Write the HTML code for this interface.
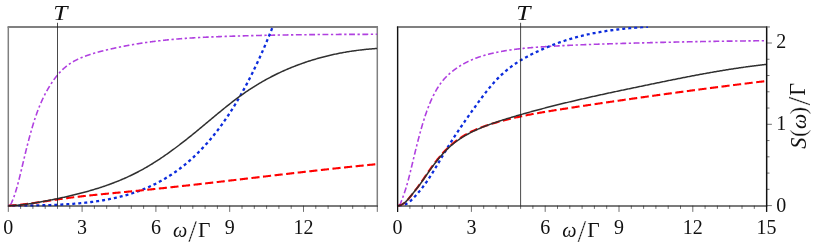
<!DOCTYPE html>
<html><head><meta charset="utf-8"><title>S(ω)/Γ</title>
<style>html,body{margin:0;padding:0;background:#fff}svg{display:block}</style>
</head><body>
<svg width="814" height="244" viewBox="0 0 814 244">
<rect width="814" height="244" fill="#fff"/>
<defs>
<clipPath id="cl"><rect x="8.3" y="26.5" width="369.0" height="180.2"/></clipPath>
<clipPath id="cr"><rect x="397.6" y="26.5" width="369.1" height="180.2"/></clipPath>
</defs>
<path d="M8.3 205.89999999999998 V26.8 M377.3 26.8 V205.89999999999998 M7.6000000000000005 205.95 H378.0" fill="none" stroke="#808080" stroke-width="1.5"/>
<path d="M7.6000000000000005 26.95 H378.0" fill="none" stroke="#808080" stroke-width="1.9"/>
<g clip-path="url(#cl)" fill="none">
<path d="M8.30 205.70 L8.55 205.67 L8.80 205.64 L9.05 205.59 L9.30 205.52 L9.55 205.40 L9.80 205.23 L10.05 205.01 L10.30 204.72 L10.55 204.39 L10.80 204.00 L11.05 203.57 L11.30 203.11 L11.55 202.61 L11.80 202.08 L12.05 201.54 L12.30 200.97 L12.55 200.38 L12.80 199.77 L13.05 199.15 L13.30 198.50 L13.55 197.84 L13.80 197.16 L14.05 196.46 L14.30 195.75 L14.55 195.02 L14.80 194.27 L15.05 193.51 L15.30 192.73 L15.55 191.93 L15.80 191.12 L16.05 190.30 L16.30 189.46 L16.55 188.60 L16.80 187.73 L17.05 186.85 L17.30 185.95 L17.55 185.04 L17.80 184.12 L18.05 183.18 L18.30 182.24 L18.55 181.28 L18.80 180.32 L19.05 179.34 L19.30 178.35 L19.55 177.36 L19.80 176.36 L20.05 175.35 L20.30 174.33 L20.55 173.31 L20.80 172.28 L21.05 171.25 L21.30 170.21 L21.55 169.17 L21.80 168.13 L22.05 167.08 L22.30 166.03 L22.55 164.98 L22.80 163.93 L23.05 162.87 L23.30 161.82 L23.55 160.77 L23.80 159.72 L24.05 158.67 L24.30 157.62 L24.55 156.58 L24.80 155.54 L25.05 154.50 L25.30 153.47 L25.55 152.44 L25.80 151.42 L26.05 150.41 L26.30 149.40 L26.55 148.40 L26.80 147.40 L27.05 146.41 L27.30 145.42 L27.55 144.44 L27.80 143.47 L28.05 142.51 L28.30 141.55 L28.55 140.59 L28.80 139.65 L29.05 138.71 L29.30 137.77 L29.55 136.85 L29.80 135.93 L30.05 135.01 L30.30 134.11 L30.55 133.21 L30.80 132.32 L31.05 131.44 L31.30 130.56 L31.55 129.69 L31.80 128.83 L32.05 127.98 L32.30 127.13 L32.55 126.29 L32.80 125.46 L33.05 124.64 L33.30 123.82 L33.55 123.02 L33.80 122.22 L34.05 121.43 L34.30 120.65 L34.55 119.87 L34.80 119.11 L35.05 118.35 L35.30 117.60 L35.55 116.86 L35.80 116.13 L36.05 115.41 L36.30 114.69 L36.55 113.99 L36.80 113.29 L37.05 112.60 L37.30 111.92 L37.55 111.24 L37.80 110.58 L38.05 109.92 L38.30 109.27 L38.55 108.63 L38.80 107.99 L39.05 107.36 L39.30 106.74 L39.55 106.13 L39.80 105.52 L40.05 104.92 L40.30 104.33 L40.55 103.74 L40.80 103.16 L41.05 102.58 L41.30 102.02 L41.55 101.46 L41.80 100.90 L42.05 100.35 L42.30 99.81 L42.55 99.27 L42.80 98.74 L43.05 98.22 L43.30 97.70 L43.55 97.18 L43.80 96.67 L44.05 96.17 L44.30 95.67 L44.55 95.18 L44.80 94.69 L45.05 94.21 L45.30 93.73 L45.55 93.26 L45.80 92.79 L46.05 92.32 L46.30 91.86 L46.55 91.41 L46.80 90.96 L47.05 90.51 L47.30 90.07 L47.55 89.63 L47.80 89.19 L48.05 88.76 L48.30 88.33 L48.55 87.91 L48.80 87.49 L49.05 87.07 L49.30 86.66 L49.55 86.25 L49.80 85.84 L50.05 85.44 L50.30 85.04 L50.55 84.64 L50.80 84.25 L51.05 83.87 L51.30 83.48 L51.55 83.10 L51.80 82.72 L52.05 82.35 L52.30 81.98 L52.55 81.61 L52.80 81.25 L53.05 80.89 L53.30 80.53 L53.55 80.18 L53.80 79.83 L54.05 79.49 L54.30 79.14 L54.55 78.80 L54.80 78.47 L55.05 78.13 L55.30 77.80 L55.55 77.48 L55.80 77.16 L56.05 76.84 L56.30 76.52 L56.55 76.21 L56.80 75.90 L57.05 75.59 L57.30 75.29 L57.55 74.99 L57.80 74.69 L58.05 74.40 L58.30 74.10 L58.55 73.82 L58.80 73.53 L59.05 73.25 L59.30 72.97 L59.55 72.70 L59.80 72.42 L60.05 72.15 L60.30 71.89 L60.55 71.62 L60.80 71.36 L61.05 71.10 L61.30 70.85 L61.55 70.60 L61.80 70.35 L62.05 70.10 L62.30 69.86 L62.55 69.62 L62.80 69.38 L63.05 69.15 L63.30 68.91 L63.55 68.69 L63.80 68.46 L64.05 68.23 L64.30 68.01 L64.55 67.79 L64.80 67.58 L65.05 67.37 L65.30 67.15 L65.55 66.95 L65.80 66.74 L66.05 66.54 L66.30 66.34 L66.55 66.14 L66.80 65.94 L67.05 65.75 L67.30 65.56 L67.55 65.37 L67.80 65.18 L68.05 64.99 L68.30 64.81 L68.55 64.63 L68.80 64.45 L69.05 64.28 L69.30 64.10 L69.55 63.93 L69.80 63.76 L70.05 63.59 L70.30 63.43 L70.55 63.27 L70.80 63.10 L71.05 62.94 L71.30 62.79 L71.55 62.63 L71.80 62.48 L72.05 62.32 L72.30 62.17 L72.55 62.02 L72.80 61.88 L73.05 61.73 L73.30 61.59 L73.55 61.45 L73.80 61.31 L74.05 61.17 L74.30 61.03 L74.55 60.89 L74.80 60.76 L75.05 60.63 L75.30 60.50 L75.55 60.37 L75.80 60.24 L76.05 60.11 L76.30 59.99 L76.55 59.86 L76.80 59.74 L77.05 59.62 L77.30 59.50 L77.55 59.38 L77.80 59.26 L78.05 59.14 L78.30 59.03 L78.55 58.91 L78.80 58.80 L79.05 58.69 L79.30 58.57 L79.55 58.46 L79.80 58.35 L80.05 58.25 L80.30 58.14 L80.55 58.03 L80.80 57.93 L81.05 57.82 L81.30 57.72 L81.55 57.61 L81.80 57.51 L82.05 57.41 L82.30 57.31 L82.55 57.21 L82.80 57.11 L83.05 57.01 L83.30 56.91 L83.55 56.81 L83.80 56.71 L84.05 56.62 L84.30 56.52 L84.55 56.43 L84.80 56.33 L85.05 56.24 L85.30 56.14 L85.55 56.05 L85.80 55.96 L86.05 55.87 L86.30 55.78 L86.55 55.69 L86.80 55.60 L87.05 55.51 L87.30 55.42 L87.55 55.33 L87.80 55.25 L88.05 55.16 L88.30 55.07 L88.55 54.99 L88.80 54.90 L89.05 54.82 L89.30 54.73 L89.55 54.65 L89.80 54.57 L90.05 54.49 L90.30 54.40 L90.55 54.32 L90.80 54.24 L91.05 54.16 L91.30 54.08 L91.55 54.00 L91.80 53.92 L92.05 53.85 L92.30 53.77 L92.55 53.69 L92.80 53.61 L93.05 53.54 L93.30 53.46 L93.55 53.39 L93.80 53.31 L94.05 53.24 L94.30 53.16 L94.55 53.09 L94.80 53.02 L95.05 52.94 L95.30 52.87 L95.55 52.80 L95.80 52.73 L96.05 52.66 L96.30 52.59 L96.55 52.52 L96.80 52.45 L97.05 52.38 L97.30 52.31 L97.55 52.24 L97.80 52.17 L98.05 52.10 L98.30 52.03 L98.55 51.97 L98.80 51.90 L99.05 51.83 L99.30 51.77 L99.55 51.70 L99.80 51.63 L100.05 51.57 L100.30 51.50 L100.55 51.44 L100.80 51.37 L101.05 51.31 L101.30 51.25 L101.55 51.18 L101.80 51.12 L102.05 51.06 L102.30 50.99 L102.55 50.93 L102.80 50.87 L103.05 50.80 L103.30 50.74 L103.55 50.68 L103.80 50.62 L104.05 50.56 L104.30 50.50 L104.55 50.44 L104.80 50.38 L105.05 50.32 L105.30 50.26 L105.55 50.20 L105.80 50.14 L106.05 50.08 L106.30 50.02 L106.55 49.96 L106.80 49.90 L107.05 49.84 L107.30 49.78 L107.55 49.72 L107.80 49.66 L108.05 49.60 L108.30 49.55 L108.55 49.49 L108.80 49.43 L109.05 49.37 L109.30 49.31 L109.55 49.26 L109.80 49.20 L110.05 49.14 L110.30 49.09 L110.55 49.03 L110.80 48.97 L111.05 48.92 L111.30 48.86 L111.55 48.80 L111.80 48.75 L112.05 48.69 L112.30 48.64 L112.55 48.58 L112.80 48.52 L113.05 48.47 L113.30 48.41 L113.55 48.36 L113.80 48.30 L114.05 48.25 L114.30 48.20 L114.55 48.14 L114.80 48.09 L115.05 48.03 L115.30 47.98 L115.55 47.93 L115.80 47.87 L116.05 47.82 L116.30 47.77 L116.55 47.71 L116.80 47.66 L117.05 47.61 L117.30 47.55 L117.55 47.50 L117.80 47.45 L118.05 47.40 L118.30 47.35 L118.55 47.29 L118.80 47.24 L119.05 47.19 L119.30 47.14 L119.55 47.09 L119.80 47.04 L120.05 46.99 L120.30 46.94 L120.55 46.89 L120.80 46.83 L121.05 46.78 L121.30 46.73 L121.55 46.68 L121.80 46.63 L122.05 46.58 L122.30 46.54 L122.55 46.49 L122.80 46.44 L123.05 46.39 L123.30 46.34 L123.55 46.29 L123.80 46.24 L124.05 46.19 L124.30 46.14 L124.55 46.10 L124.80 46.05 L125.05 46.00 L125.30 45.95 L125.55 45.90 L125.80 45.86 L126.05 45.81 L126.30 45.76 L126.55 45.72 L126.80 45.67 L127.05 45.62 L127.30 45.58 L127.55 45.53 L127.80 45.48 L128.05 45.44 L128.30 45.39 L128.55 45.35 L128.80 45.30 L129.05 45.25 L129.30 45.21 L129.55 45.16 L129.80 45.12 L130.05 45.07 L130.30 45.03 L130.55 44.98 L130.80 44.94 L131.05 44.90 L131.30 44.85 L131.55 44.81 L131.80 44.76 L132.05 44.72 L132.30 44.68 L132.55 44.63 L132.80 44.59 L133.05 44.55 L133.30 44.50 L133.55 44.46 L133.80 44.42 L134.05 44.37 L134.30 44.33 L134.55 44.29 L134.80 44.25 L135.05 44.21 L135.30 44.16 L135.55 44.12 L135.80 44.08 L136.05 44.04 L136.30 44.00 L136.55 43.96 L136.80 43.91 L137.05 43.87 L137.30 43.83 L137.55 43.79 L137.80 43.75 L138.05 43.71 L138.30 43.67 L138.55 43.63 L138.80 43.59 L139.05 43.55 L139.30 43.51 L139.55 43.47 L139.80 43.43 L140.05 43.39 L140.30 43.35 L140.55 43.32 L140.80 43.28 L141.05 43.24 L141.30 43.20 L141.55 43.16 L141.80 43.12 L142.05 43.09 L142.30 43.05 L142.55 43.01 L142.80 42.97 L143.05 42.93 L143.30 42.90 L143.55 42.86 L143.80 42.82 L144.05 42.79 L144.30 42.75 L144.55 42.71 L144.80 42.68 L145.05 42.64 L145.30 42.60 L145.55 42.57 L145.80 42.53 L146.05 42.49 L146.30 42.46 L146.55 42.42 L146.80 42.39 L147.05 42.35 L147.30 42.32 L147.55 42.28 L147.80 42.25 L148.05 42.21 L148.30 42.18 L148.55 42.14 L148.80 42.11 L149.05 42.07 L149.30 42.04 L149.55 42.01 L149.80 41.97 L150.05 41.94 L150.30 41.90 L150.55 41.87 L150.80 41.84 L151.05 41.80 L151.30 41.77 L151.55 41.74 L151.80 41.71 L152.05 41.67 L152.30 41.64 L152.55 41.61 L152.80 41.58 L153.05 41.54 L153.30 41.51 L153.55 41.48 L153.80 41.45 L154.05 41.42 L154.30 41.39 L154.55 41.35 L154.80 41.32 L155.05 41.29 L155.30 41.26 L155.55 41.23 L155.80 41.20 L156.05 41.17 L156.30 41.14 L156.55 41.11 L156.80 41.08 L157.05 41.05 L157.30 41.02 L157.55 40.99 L157.80 40.96 L158.05 40.93 L158.30 40.90 L158.55 40.87 L158.80 40.84 L159.05 40.81 L159.30 40.78 L159.55 40.75 L159.80 40.73 L160.05 40.70 L160.30 40.67 L160.55 40.64 L160.80 40.61 L161.05 40.58 L161.30 40.56 L161.55 40.53 L161.80 40.50 L162.05 40.47 L162.30 40.45 L162.55 40.42 L162.80 40.39 L163.05 40.36 L163.30 40.34 L163.55 40.31 L163.80 40.28 L164.05 40.26 L164.30 40.23 L164.55 40.20 L164.80 40.18 L165.05 40.15 L165.30 40.13 L165.55 40.10 L165.80 40.07 L166.05 40.05 L166.30 40.02 L166.55 40.00 L166.80 39.97 L167.05 39.95 L167.30 39.92 L167.55 39.90 L167.80 39.87 L168.05 39.85 L168.30 39.82 L168.55 39.80 L168.80 39.77 L169.05 39.75 L169.30 39.73 L169.55 39.70 L169.80 39.68 L170.05 39.65 L170.30 39.63 L170.55 39.61 L170.80 39.58 L171.05 39.56 L171.30 39.54 L171.55 39.51 L171.80 39.49 L172.05 39.47 L172.30 39.44 L172.55 39.42 L172.80 39.40 L173.05 39.38 L173.30 39.35 L173.55 39.33 L173.80 39.31 L174.05 39.29 L174.30 39.26 L174.55 39.24 L174.80 39.22 L175.05 39.20 L175.30 39.18 L175.55 39.16 L175.80 39.13 L176.05 39.11 L176.30 39.09 L176.55 39.07 L176.80 39.05 L177.05 39.03 L177.30 39.01 L177.55 38.99 L177.80 38.97 L178.05 38.95 L178.30 38.93 L178.55 38.91 L178.80 38.89 L179.05 38.86 L179.30 38.84 L179.55 38.82 L179.80 38.81 L180.05 38.79 L180.30 38.77 L180.55 38.75 L180.80 38.73 L181.05 38.71 L181.30 38.69 L181.55 38.67 L181.80 38.65 L182.05 38.63 L182.30 38.61 L182.55 38.59 L182.80 38.57 L183.05 38.56 L183.30 38.54 L183.55 38.52 L183.80 38.50 L184.05 38.48 L184.30 38.46 L184.55 38.45 L184.80 38.43 L185.05 38.41 L185.30 38.39 L185.55 38.37 L185.80 38.36 L186.05 38.34 L186.30 38.32 L186.55 38.30 L186.80 38.29 L187.05 38.27 L187.30 38.25 L187.55 38.24 L187.80 38.22 L188.05 38.20 L188.30 38.18 L188.55 38.17 L188.80 38.15 L189.05 38.13 L189.30 38.12 L189.55 38.10 L189.80 38.09 L190.05 38.07 L190.30 38.05 L190.55 38.04 L190.80 38.02 L191.05 38.00 L191.30 37.99 L191.55 37.97 L191.80 37.96 L192.05 37.94 L192.30 37.93 L192.55 37.91 L192.80 37.90 L193.05 37.88 L193.30 37.87 L193.55 37.85 L193.80 37.83 L194.05 37.82 L194.30 37.80 L194.55 37.79 L194.80 37.78 L195.05 37.76 L195.30 37.75 L195.55 37.73 L195.80 37.72 L196.05 37.70 L196.30 37.69 L196.55 37.67 L196.80 37.66 L197.05 37.65 L197.30 37.63 L197.55 37.62 L197.80 37.60 L198.05 37.59 L198.30 37.58 L198.55 37.56 L198.80 37.55 L199.05 37.53 L199.30 37.52 L199.55 37.51 L199.80 37.49 L200.05 37.48 L200.30 37.47 L200.55 37.45 L200.80 37.44 L201.05 37.43 L201.30 37.42 L201.55 37.40 L201.80 37.39 L202.05 37.38 L202.30 37.36 L202.55 37.35 L202.80 37.34 L203.05 37.33 L203.30 37.31 L203.55 37.30 L203.80 37.29 L204.05 37.28 L204.30 37.26 L204.55 37.25 L204.80 37.24 L205.05 37.23 L205.30 37.22 L205.55 37.20 L205.80 37.19 L206.05 37.18 L206.30 37.17 L206.55 37.16 L206.80 37.15 L207.05 37.13 L207.30 37.12 L207.55 37.11 L207.80 37.10 L208.05 37.09 L208.30 37.08 L208.55 37.07 L208.80 37.05 L209.05 37.04 L209.30 37.03 L209.55 37.02 L209.80 37.01 L210.05 37.00 L210.30 36.99 L210.55 36.98 L210.80 36.97 L211.05 36.95 L211.30 36.94 L211.55 36.93 L211.80 36.92 L212.05 36.91 L212.30 36.90 L212.55 36.89 L212.80 36.88 L213.05 36.87 L213.30 36.86 L213.55 36.85 L213.80 36.84 L214.05 36.83 L214.30 36.82 L214.55 36.81 L214.80 36.80 L215.05 36.79 L215.30 36.78 L215.55 36.77 L215.80 36.76 L216.05 36.75 L216.30 36.74 L216.55 36.73 L216.80 36.72 L217.05 36.71 L217.30 36.70 L217.55 36.69 L217.80 36.68 L218.05 36.67 L218.30 36.66 L218.55 36.65 L218.80 36.64 L219.05 36.63 L219.30 36.62 L219.55 36.62 L219.80 36.61 L220.05 36.60 L220.30 36.59 L220.55 36.58 L220.80 36.57 L221.05 36.56 L221.30 36.55 L221.55 36.54 L221.80 36.53 L222.05 36.52 L222.30 36.52 L222.55 36.51 L222.80 36.50 L223.05 36.49 L223.30 36.48 L223.55 36.47 L223.80 36.46 L224.05 36.45 L224.30 36.45 L224.55 36.44 L224.80 36.43 L225.05 36.42 L225.30 36.41 L225.55 36.40 L225.80 36.39 L226.05 36.39 L226.30 36.38 L226.55 36.37 L226.80 36.36 L227.05 36.35 L227.30 36.34 L227.55 36.34 L227.80 36.33 L228.05 36.32 L228.30 36.31 L228.55 36.30 L228.80 36.29 L229.05 36.29 L229.30 36.28 L229.55 36.27 L229.80 36.26 L230.05 36.25 L230.30 36.25 L230.55 36.24 L230.80 36.23 L231.05 36.22 L231.30 36.21 L231.55 36.21 L231.80 36.20 L232.05 36.19 L232.30 36.18 L232.55 36.17 L232.80 36.17 L233.05 36.16 L233.30 36.15 L233.55 36.14 L233.80 36.14 L234.05 36.13 L234.30 36.12 L234.55 36.11 L234.80 36.10 L235.05 36.10 L235.30 36.09 L235.55 36.08 L235.80 36.07 L236.05 36.07 L236.30 36.06 L236.55 36.05 L236.80 36.04 L237.05 36.04 L237.30 36.03 L237.55 36.02 L237.80 36.01 L238.05 36.01 L238.30 36.00 L238.55 35.99 L238.80 35.99 L239.05 35.98 L239.30 35.97 L239.55 35.96 L239.80 35.96 L240.05 35.95 L240.30 35.94 L240.55 35.93 L240.80 35.93 L241.05 35.92 L241.30 35.91 L241.55 35.91 L241.80 35.90 L242.05 35.89 L242.30 35.88 L242.55 35.88 L242.80 35.87 L243.05 35.86 L243.30 35.86 L243.55 35.85 L243.80 35.84 L244.05 35.84 L244.30 35.83 L244.55 35.82 L244.80 35.82 L245.05 35.81 L245.30 35.80 L245.55 35.80 L245.80 35.79 L246.05 35.78 L246.30 35.78 L246.55 35.77 L246.80 35.76 L247.05 35.76 L247.30 35.75 L247.55 35.74 L247.80 35.74 L248.05 35.73 L248.30 35.72 L248.55 35.72 L248.80 35.71 L249.05 35.70 L249.30 35.70 L249.55 35.69 L249.80 35.68 L250.05 35.68 L250.30 35.67 L250.55 35.66 L250.80 35.66 L251.05 35.65 L251.30 35.65 L251.55 35.64 L251.80 35.63 L252.05 35.63 L252.30 35.62 L252.55 35.61 L252.80 35.61 L253.05 35.60 L253.30 35.60 L253.55 35.59 L253.80 35.58 L254.05 35.58 L254.30 35.57 L254.55 35.57 L254.80 35.56 L255.05 35.55 L255.30 35.55 L255.55 35.54 L255.80 35.54 L256.05 35.53 L256.30 35.52 L256.55 35.52 L256.80 35.51 L257.05 35.51 L257.30 35.50 L257.55 35.49 L257.80 35.49 L258.05 35.48 L258.30 35.48 L258.55 35.47 L258.80 35.47 L259.05 35.46 L259.30 35.45 L259.55 35.45 L259.80 35.44 L260.05 35.44 L260.30 35.43 L260.55 35.43 L260.80 35.42 L261.05 35.42 L261.30 35.41 L261.55 35.40 L261.80 35.40 L262.05 35.39 L262.30 35.39 L262.55 35.38 L262.80 35.38 L263.05 35.37 L263.30 35.37 L263.55 35.36 L263.80 35.36 L264.05 35.35 L264.30 35.34 L264.55 35.34 L264.80 35.33 L265.05 35.33 L265.30 35.32 L265.55 35.32 L265.80 35.31 L266.05 35.31 L266.30 35.30 L266.55 35.30 L266.80 35.29 L267.05 35.29 L267.30 35.28 L267.55 35.28 L267.80 35.27 L268.05 35.27 L268.30 35.26 L268.55 35.26 L268.80 35.25 L269.05 35.25 L269.30 35.24 L269.55 35.24 L269.80 35.23 L270.05 35.23 L270.30 35.22 L270.55 35.22 L270.80 35.21 L271.05 35.21 L271.30 35.20 L271.55 35.20 L271.80 35.19 L272.05 35.19 L272.30 35.18 L272.55 35.18 L272.80 35.17 L273.05 35.17 L273.30 35.16 L273.55 35.16 L273.80 35.16 L274.05 35.15 L274.30 35.15 L274.55 35.14 L274.80 35.14 L275.05 35.13 L275.30 35.13 L275.55 35.12 L275.80 35.12 L276.05 35.11 L276.30 35.11 L276.55 35.11 L276.80 35.10 L277.05 35.10 L277.30 35.09 L277.55 35.09 L277.80 35.08 L278.05 35.08 L278.30 35.07 L278.55 35.07 L278.80 35.07 L279.05 35.06 L279.30 35.06 L279.55 35.05 L279.80 35.05 L280.05 35.04 L280.30 35.04 L280.55 35.04 L280.80 35.03 L281.05 35.03 L281.30 35.02 L281.55 35.02 L281.80 35.02 L282.05 35.01 L282.30 35.01 L282.55 35.00 L282.80 35.00 L283.05 34.99 L283.30 34.99 L283.55 34.99 L283.80 34.98 L284.05 34.98 L284.30 34.97 L284.55 34.97 L284.80 34.97 L285.05 34.96 L285.30 34.96 L285.55 34.95 L285.80 34.95 L286.05 34.95 L286.30 34.94 L286.55 34.94 L286.80 34.94 L287.05 34.93 L287.30 34.93 L287.55 34.92 L287.80 34.92 L288.05 34.92 L288.30 34.91 L288.55 34.91 L288.80 34.91 L289.05 34.90 L289.30 34.90 L289.55 34.89 L289.80 34.89 L290.05 34.89 L290.30 34.88 L290.55 34.88 L290.80 34.88 L291.05 34.87 L291.30 34.87 L291.55 34.87 L291.80 34.86 L292.05 34.86 L292.30 34.86 L292.55 34.85 L292.80 34.85 L293.05 34.84 L293.30 34.84 L293.55 34.84 L293.80 34.83 L294.05 34.83 L294.30 34.83 L294.55 34.82 L294.80 34.82 L295.05 34.82 L295.30 34.81 L295.55 34.81 L295.80 34.81 L296.05 34.80 L296.30 34.80 L296.55 34.80 L296.80 34.79 L297.05 34.79 L297.30 34.79 L297.55 34.79 L297.80 34.78 L298.05 34.78 L298.30 34.78 L298.55 34.77 L298.80 34.77 L299.05 34.77 L299.30 34.76 L299.55 34.76 L299.80 34.76 L300.05 34.75 L300.30 34.75 L300.55 34.75 L300.80 34.74 L301.05 34.74 L301.30 34.74 L301.55 34.74 L301.80 34.73 L302.05 34.73 L302.30 34.73 L302.55 34.72 L302.80 34.72 L303.05 34.72 L303.30 34.72 L303.55 34.71 L303.80 34.71 L304.05 34.71 L304.30 34.70 L304.55 34.70 L304.80 34.70 L305.05 34.70 L305.30 34.69 L305.55 34.69 L305.80 34.69 L306.05 34.68 L306.30 34.68 L306.55 34.68 L306.80 34.68 L307.05 34.67 L307.30 34.67 L307.55 34.67 L307.80 34.67 L308.05 34.66 L308.30 34.66 L308.55 34.66 L308.80 34.66 L309.05 34.65 L309.30 34.65 L309.55 34.65 L309.80 34.64 L310.05 34.64 L310.30 34.64 L310.55 34.64 L310.80 34.63 L311.05 34.63 L311.30 34.63 L311.55 34.63 L311.80 34.62 L312.05 34.62 L312.30 34.62 L312.55 34.62 L312.80 34.62 L313.05 34.61 L313.30 34.61 L313.55 34.61 L313.80 34.61 L314.05 34.60 L314.30 34.60 L314.55 34.60 L314.80 34.60 L315.05 34.59 L315.30 34.59 L315.55 34.59 L315.80 34.59 L316.05 34.58 L316.30 34.58 L316.55 34.58 L316.80 34.58 L317.05 34.58 L317.30 34.57 L317.55 34.57 L317.80 34.57 L318.05 34.57 L318.30 34.57 L318.55 34.56 L318.80 34.56 L319.05 34.56 L319.30 34.56 L319.55 34.55 L319.80 34.55 L320.05 34.55 L320.30 34.55 L320.55 34.55 L320.80 34.54 L321.05 34.54 L321.30 34.54 L321.55 34.54 L321.80 34.54 L322.05 34.53 L322.30 34.53 L322.55 34.53 L322.80 34.53 L323.05 34.53 L323.30 34.52 L323.55 34.52 L323.80 34.52 L324.05 34.52 L324.30 34.52 L324.55 34.52 L324.80 34.51 L325.05 34.51 L325.30 34.51 L325.55 34.51 L325.80 34.51 L326.05 34.50 L326.30 34.50 L326.55 34.50 L326.80 34.50 L327.05 34.50 L327.30 34.50 L327.55 34.49 L327.80 34.49 L328.05 34.49 L328.30 34.49 L328.55 34.49 L328.80 34.48 L329.05 34.48 L329.30 34.48 L329.55 34.48 L329.80 34.48 L330.05 34.48 L330.30 34.47 L330.55 34.47 L330.80 34.47 L331.05 34.47 L331.30 34.47 L331.55 34.47 L331.80 34.47 L332.05 34.46 L332.30 34.46 L332.55 34.46 L332.80 34.46 L333.05 34.46 L333.30 34.46 L333.55 34.45 L333.80 34.45 L334.05 34.45 L334.30 34.45 L334.55 34.45 L334.80 34.45 L335.05 34.45 L335.30 34.44 L335.55 34.44 L335.80 34.44 L336.05 34.44 L336.30 34.44 L336.55 34.44 L336.80 34.44 L337.05 34.43 L337.30 34.43 L337.55 34.43 L337.80 34.43 L338.05 34.43 L338.30 34.43 L338.55 34.43 L338.80 34.42 L339.05 34.42 L339.30 34.42 L339.55 34.42 L339.80 34.42 L340.05 34.42 L340.30 34.42 L340.55 34.42 L340.80 34.41 L341.05 34.41 L341.30 34.41 L341.55 34.41 L341.80 34.41 L342.05 34.41 L342.30 34.41 L342.55 34.41 L342.80 34.41 L343.05 34.40 L343.30 34.40 L343.55 34.40 L343.80 34.40 L344.05 34.40 L344.30 34.40 L344.55 34.40 L344.80 34.40 L345.05 34.39 L345.30 34.39 L345.55 34.39 L345.80 34.39 L346.05 34.39 L346.30 34.39 L346.55 34.39 L346.80 34.39 L347.05 34.39 L347.30 34.39 L347.55 34.38 L347.80 34.38 L348.05 34.38 L348.30 34.38 L348.55 34.38 L348.80 34.38 L349.05 34.38 L349.30 34.38 L349.55 34.38 L349.80 34.38 L350.05 34.37 L350.30 34.37 L350.55 34.37 L350.80 34.37 L351.05 34.37 L351.30 34.37 L351.55 34.37 L351.80 34.37 L352.05 34.37 L352.30 34.37 L352.55 34.37 L352.80 34.36 L353.05 34.36 L353.30 34.36 L353.55 34.36 L353.80 34.36 L354.05 34.36 L354.30 34.36 L354.55 34.36 L354.80 34.36 L355.05 34.36 L355.30 34.36 L355.55 34.36 L355.80 34.35 L356.05 34.35 L356.30 34.35 L356.55 34.35 L356.80 34.35 L357.05 34.35 L357.30 34.35 L357.55 34.35 L357.80 34.35 L358.05 34.35 L358.30 34.35 L358.55 34.35 L358.80 34.35 L359.05 34.35 L359.30 34.34 L359.55 34.34 L359.80 34.34 L360.05 34.34 L360.30 34.34 L360.55 34.34 L360.80 34.34 L361.05 34.34 L361.30 34.34 L361.55 34.34 L361.80 34.34 L362.05 34.34 L362.30 34.34 L362.55 34.34 L362.80 34.34 L363.05 34.34 L363.30 34.33 L363.55 34.33 L363.80 34.33 L364.05 34.33 L364.30 34.33 L364.55 34.33 L364.80 34.33 L365.05 34.33 L365.30 34.33 L365.55 34.33 L365.80 34.33 L366.05 34.33 L366.30 34.33 L366.55 34.33 L366.80 34.33 L367.05 34.33 L367.30 34.33 L367.55 34.33 L367.80 34.32 L368.05 34.32 L368.30 34.32 L368.55 34.32 L368.80 34.32 L369.05 34.32 L369.30 34.32 L369.55 34.32 L369.80 34.32 L370.05 34.32 L370.30 34.32 L370.55 34.32 L370.80 34.32 L371.05 34.32 L371.30 34.32 L371.55 34.32 L371.80 34.32 L372.05 34.32 L372.30 34.32 L372.55 34.32 L372.80 34.32 L373.05 34.32 L373.30 34.32 L373.55 34.32 L373.80 34.31 L374.05 34.31 L374.30 34.31 L374.55 34.31 L374.80 34.31 L375.05 34.31 L375.30 34.31 L375.55 34.31 L375.80 34.31 L376.05 34.31 L376.30 34.31 L376.55 34.31 L376.80 34.31 L377.05 34.31 L377.30 34.31" stroke="#b040e0" stroke-width="1.6" stroke-dasharray="5.9 2.55 2.3 2.55" stroke-dashoffset="11.06"/>
<path d="M8.30 205.70 L9.30 205.70 L10.30 205.70 L11.30 205.70 L12.30 205.69 L13.30 205.69 L14.30 205.69 L15.30 205.68 L16.30 205.68 L17.30 205.67 L18.30 205.67 L19.30 205.66 L20.30 205.65 L21.30 205.65 L22.30 205.64 L23.30 205.63 L24.30 205.62 L25.30 205.61 L26.30 205.59 L27.30 205.58 L28.30 205.57 L29.30 205.56 L30.30 205.54 L31.30 205.52 L32.30 205.51 L33.30 205.49 L34.30 205.47 L35.30 205.45 L36.30 205.43 L37.30 205.41 L38.30 205.39 L39.30 205.37 L40.30 205.34 L41.30 205.32 L42.30 205.29 L43.30 205.27 L44.30 205.24 L45.30 205.21 L46.30 205.18 L47.30 205.15 L48.30 205.11 L49.30 205.08 L50.30 205.05 L51.30 205.01 L52.30 204.97 L53.30 204.93 L54.30 204.89 L55.30 204.85 L56.30 204.80 L57.30 204.76 L58.30 204.71 L59.30 204.66 L60.30 204.61 L61.30 204.56 L62.30 204.51 L63.30 204.45 L64.30 204.40 L65.30 204.34 L66.30 204.28 L67.30 204.22 L68.30 204.15 L69.30 204.09 L70.30 204.02 L71.30 203.95 L72.30 203.87 L73.30 203.80 L74.30 203.72 L75.30 203.64 L76.30 203.56 L77.30 203.47 L78.30 203.39 L79.30 203.30 L80.30 203.21 L81.30 203.11 L82.30 203.01 L83.30 202.91 L84.30 202.81 L85.30 202.71 L86.30 202.60 L87.30 202.49 L88.30 202.37 L89.30 202.25 L90.30 202.13 L91.30 202.01 L92.30 201.88 L93.30 201.75 L94.30 201.62 L95.30 201.48 L96.30 201.34 L97.30 201.19 L98.30 201.05 L99.30 200.89 L100.30 200.74 L101.30 200.58 L102.30 200.41 L103.30 200.25 L104.30 200.07 L105.30 199.90 L106.30 199.72 L107.30 199.53 L108.30 199.34 L109.30 199.15 L110.30 198.95 L111.30 198.75 L112.30 198.54 L113.30 198.33 L114.30 198.11 L115.30 197.89 L116.30 197.66 L117.30 197.43 L118.30 197.19 L119.30 196.95 L120.30 196.70 L121.30 196.45 L122.30 196.19 L123.30 195.92 L124.30 195.65 L125.30 195.38 L126.30 195.10 L127.30 194.81 L128.30 194.51 L129.30 194.21 L130.30 193.91 L131.30 193.59 L132.30 193.27 L133.30 192.95 L134.30 192.61 L135.30 192.27 L136.30 191.93 L137.30 191.57 L138.30 191.21 L139.30 190.85 L140.30 190.47 L141.30 190.09 L142.30 189.70 L143.30 189.30 L144.30 188.90 L145.30 188.49 L146.30 188.07 L147.30 187.64 L148.30 187.20 L149.30 186.76 L150.30 186.30 L151.30 185.84 L152.30 185.37 L153.30 184.89 L154.30 184.41 L155.30 183.91 L156.30 183.41 L157.30 182.89 L158.30 182.37 L159.30 181.84 L160.30 181.29 L161.30 180.74 L162.30 180.18 L163.30 179.61 L164.30 179.03 L165.30 178.44 L166.30 177.84 L167.30 177.23 L168.30 176.61 L169.30 175.97 L170.30 175.33 L171.30 174.68 L172.30 174.01 L173.30 173.34 L174.30 172.65 L175.30 171.96 L176.30 171.25 L177.30 170.53 L178.30 169.79 L179.30 169.05 L180.30 168.29 L181.30 167.53 L182.30 166.75 L183.30 165.95 L184.30 165.15 L185.30 164.33 L186.30 163.50 L187.30 162.66 L188.30 161.80 L189.30 160.94 L190.30 160.05 L191.30 159.16 L192.30 158.25 L193.30 157.33 L194.30 156.39 L195.30 155.44 L196.30 154.48 L197.30 153.50 L198.30 152.50 L199.30 151.50 L200.30 150.47 L201.30 149.44 L202.30 148.38 L203.30 147.32 L204.30 146.23 L205.30 145.14 L206.30 144.02 L207.30 142.89 L208.30 141.75 L209.30 140.59 L210.30 139.41 L211.30 138.22 L212.30 137.01 L213.30 135.78 L214.30 134.53 L215.30 133.27 L216.30 132.00 L217.30 130.70 L218.30 129.39 L219.30 128.06 L220.30 126.71 L221.30 125.34 L222.30 123.96 L223.30 122.56 L224.30 121.14 L225.30 119.70 L226.30 118.24 L227.30 116.76 L228.30 115.26 L229.30 113.75 L230.30 112.21 L231.30 110.66 L232.30 109.09 L233.30 107.49 L234.30 105.88 L235.30 104.24 L236.30 102.59 L237.30 100.91 L238.30 99.21 L239.30 97.50 L240.30 95.76 L241.30 94.00 L242.30 92.21 L243.30 90.41 L244.30 88.59 L245.30 86.74 L246.30 84.87 L247.30 82.98 L248.30 81.06 L249.30 79.12 L250.30 77.16 L251.30 75.18 L252.30 73.17 L253.30 71.14 L254.30 69.09 L255.30 67.01 L256.30 64.90 L257.30 62.78 L258.30 60.63 L259.30 58.45 L260.30 56.25 L261.30 54.02 L262.30 51.77 L263.30 49.49 L264.30 47.19 L265.30 44.86 L266.30 42.51 L267.30 40.13 L268.30 37.72 L269.30 35.28 L270.30 32.82 L271.30 30.33 L272.30 27.82 L273.30 25.28 L274.30 22.71" stroke="#0c2cdc" stroke-width="2.3" stroke-dasharray="3 3" stroke-dashoffset="1.97"/>
<path d="M8.30 205.71 L9.30 205.65 L10.30 205.59 L11.30 205.53 L12.30 205.46 L13.30 205.38 L14.30 205.30 L15.30 205.22 L16.30 205.13 L17.30 205.04 L18.30 204.94 L19.30 204.84 L20.30 204.73 L21.30 204.63 L22.30 204.51 L23.30 204.40 L24.30 204.28 L25.30 204.16 L26.30 204.03 L27.30 203.91 L28.30 203.78 L29.30 203.64 L30.30 203.51 L31.30 203.37 L32.30 203.23 L33.30 203.09 L34.30 202.95 L35.30 202.80 L36.30 202.65 L37.30 202.51 L38.30 202.36 L39.30 202.21 L40.30 202.06 L41.30 201.90 L42.30 201.75 L43.30 201.60 L44.30 201.44 L45.30 201.29 L46.30 201.13 L47.30 200.98 L48.30 200.83 L49.30 200.67 L50.30 200.52 L51.30 200.37 L52.30 200.21 L53.30 200.06 L54.30 199.91 L55.30 199.76 L56.30 199.62 L57.30 199.47 L58.30 199.33 L59.30 199.18 L60.30 199.04 L61.30 198.90 L62.30 198.76 L63.30 198.63 L64.30 198.49 L65.30 198.36 L66.30 198.22 L67.30 198.09 L68.30 197.96 L69.30 197.83 L70.30 197.71 L71.30 197.58 L72.30 197.46 L73.30 197.33 L74.30 197.21 L75.30 197.09 L76.30 196.97 L77.30 196.85 L78.30 196.73 L79.30 196.62 L80.30 196.50 L81.30 196.39 L82.30 196.27 L83.30 196.16 L84.30 196.05 L85.30 195.94 L86.30 195.83 L87.30 195.72 L88.30 195.61 L89.30 195.50 L90.30 195.40 L91.30 195.29 L92.30 195.18 L93.30 195.08 L94.30 194.98 L95.30 194.87 L96.30 194.77 L97.30 194.67 L98.30 194.57 L99.30 194.47 L100.30 194.37 L101.30 194.27 L102.30 194.17 L103.30 194.07 L104.30 193.97 L105.30 193.87 L106.30 193.77 L107.30 193.68 L108.30 193.58 L109.30 193.48 L110.30 193.39 L111.30 193.29 L112.30 193.19 L113.30 193.10 L114.30 193.00 L115.30 192.90 L116.30 192.81 L117.30 192.71 L118.30 192.62 L119.30 192.52 L120.30 192.43 L121.30 192.33 L122.30 192.24 L123.30 192.14 L124.30 192.04 L125.30 191.95 L126.30 191.85 L127.30 191.76 L128.30 191.66 L129.30 191.56 L130.30 191.46 L131.30 191.37 L132.30 191.27 L133.30 191.17 L134.30 191.07 L135.30 190.97 L136.30 190.88 L137.30 190.78 L138.30 190.68 L139.30 190.58 L140.30 190.48 L141.30 190.38 L142.30 190.27 L143.30 190.17 L144.30 190.07 L145.30 189.97 L146.30 189.87 L147.30 189.77 L148.30 189.66 L149.30 189.56 L150.30 189.46 L151.30 189.35 L152.30 189.25 L153.30 189.15 L154.30 189.04 L155.30 188.94 L156.30 188.83 L157.30 188.73 L158.30 188.62 L159.30 188.52 L160.30 188.41 L161.30 188.30 L162.30 188.20 L163.30 188.09 L164.30 187.98 L165.30 187.88 L166.30 187.77 L167.30 187.66 L168.30 187.55 L169.30 187.45 L170.30 187.34 L171.30 187.23 L172.30 187.12 L173.30 187.01 L174.30 186.90 L175.30 186.79 L176.30 186.68 L177.30 186.57 L178.30 186.46 L179.30 186.35 L180.30 186.24 L181.30 186.13 L182.30 186.02 L183.30 185.91 L184.30 185.80 L185.30 185.69 L186.30 185.58 L187.30 185.46 L188.30 185.35 L189.30 185.24 L190.30 185.13 L191.30 185.02 L192.30 184.90 L193.30 184.79 L194.30 184.68 L195.30 184.56 L196.30 184.45 L197.30 184.34 L198.30 184.22 L199.30 184.11 L200.30 184.00 L201.30 183.88 L202.30 183.77 L203.30 183.65 L204.30 183.54 L205.30 183.43 L206.30 183.31 L207.30 183.20 L208.30 183.08 L209.30 182.97 L210.30 182.85 L211.30 182.74 L212.30 182.62 L213.30 182.51 L214.30 182.39 L215.30 182.27 L216.30 182.16 L217.30 182.04 L218.30 181.93 L219.30 181.81 L220.30 181.69 L221.30 181.58 L222.30 181.46 L223.30 181.35 L224.30 181.23 L225.30 181.11 L226.30 181.00 L227.30 180.88 L228.30 180.76 L229.30 180.65 L230.30 180.53 L231.30 180.41 L232.30 180.29 L233.30 180.18 L234.30 180.06 L235.30 179.94 L236.30 179.83 L237.30 179.71 L238.30 179.59 L239.30 179.47 L240.30 179.36 L241.30 179.24 L242.30 179.12 L243.30 179.00 L244.30 178.89 L245.30 178.77 L246.30 178.65 L247.30 178.53 L248.30 178.42 L249.30 178.30 L250.30 178.18 L251.30 178.06 L252.30 177.95 L253.30 177.83 L254.30 177.71 L255.30 177.59 L256.30 177.48 L257.30 177.36 L258.30 177.24 L259.30 177.12 L260.30 177.01 L261.30 176.89 L262.30 176.77 L263.30 176.65 L264.30 176.54 L265.30 176.42 L266.30 176.30 L267.30 176.18 L268.30 176.07 L269.30 175.95 L270.30 175.83 L271.30 175.71 L272.30 175.60 L273.30 175.48 L274.30 175.36 L275.30 175.25 L276.30 175.13 L277.30 175.01 L278.30 174.89 L279.30 174.78 L280.30 174.66 L281.30 174.54 L282.30 174.43 L283.30 174.31 L284.30 174.20 L285.30 174.08 L286.30 173.96 L287.30 173.85 L288.30 173.73 L289.30 173.61 L290.30 173.50 L291.30 173.38 L292.30 173.27 L293.30 173.15 L294.30 173.04 L295.30 172.92 L296.30 172.81 L297.30 172.69 L298.30 172.58 L299.30 172.46 L300.30 172.35 L301.30 172.23 L302.30 172.12 L303.30 172.00 L304.30 171.89 L305.30 171.77 L306.30 171.66 L307.30 171.55 L308.30 171.43 L309.30 171.32 L310.30 171.21 L311.30 171.09 L312.30 170.98 L313.30 170.87 L314.30 170.76 L315.30 170.64 L316.30 170.53 L317.30 170.42 L318.30 170.31 L319.30 170.19 L320.30 170.08 L321.30 169.97 L322.30 169.86 L323.30 169.75 L324.30 169.64 L325.30 169.53 L326.30 169.42 L327.30 169.31 L328.30 169.20 L329.30 169.09 L330.30 168.98 L331.30 168.87 L332.30 168.76 L333.30 168.65 L334.30 168.54 L335.30 168.43 L336.30 168.32 L337.30 168.21 L338.30 168.11 L339.30 168.00 L340.30 167.89 L341.30 167.78 L342.30 167.68 L343.30 167.57 L344.30 167.46 L345.30 167.36 L346.30 167.25 L347.30 167.15 L348.30 167.04 L349.30 166.93 L350.30 166.83 L351.30 166.72 L352.30 166.62 L353.30 166.52 L354.30 166.41 L355.30 166.31 L356.30 166.21 L357.30 166.10 L358.30 166.00 L359.30 165.90 L360.30 165.79 L361.30 165.69 L362.30 165.59 L363.30 165.49 L364.30 165.39 L365.30 165.29 L366.30 165.19 L367.30 165.09 L368.30 164.99 L369.30 164.89 L370.30 164.79 L371.30 164.69 L372.30 164.59 L373.30 164.49 L374.30 164.39 L375.30 164.30 L376.30 164.20 L377.30 164.10" stroke="#ff0000" stroke-width="2.1" stroke-dasharray="8.15 3.5" stroke-dashoffset="11.57"/>
<path d="M8.30 205.70 L9.30 205.67 L10.30 205.64 L11.30 205.60 L12.30 205.55 L13.30 205.50 L14.30 205.44 L15.30 205.37 L16.30 205.29 L17.30 205.21 L18.30 205.13 L19.30 205.03 L20.30 204.93 L21.30 204.83 L22.30 204.72 L23.30 204.60 L24.30 204.48 L25.30 204.35 L26.30 204.22 L27.30 204.08 L28.30 203.94 L29.30 203.80 L30.30 203.65 L31.30 203.50 L32.30 203.34 L33.30 203.18 L34.30 203.02 L35.30 202.85 L36.30 202.68 L37.30 202.51 L38.30 202.33 L39.30 202.15 L40.30 201.97 L41.30 201.79 L42.30 201.61 L43.30 201.42 L44.30 201.23 L45.30 201.05 L46.30 200.86 L47.30 200.66 L48.30 200.47 L49.30 200.28 L50.30 200.08 L51.30 199.88 L52.30 199.68 L53.30 199.48 L54.30 199.28 L55.30 199.08 L56.30 198.87 L57.30 198.67 L58.30 198.46 L59.30 198.25 L60.30 198.04 L61.30 197.82 L62.30 197.60 L63.30 197.39 L64.30 197.17 L65.30 196.94 L66.30 196.72 L67.30 196.49 L68.30 196.26 L69.30 196.03 L70.30 195.80 L71.30 195.56 L72.30 195.33 L73.30 195.08 L74.30 194.84 L75.30 194.60 L76.30 194.35 L77.30 194.10 L78.30 193.84 L79.30 193.59 L80.30 193.33 L81.30 193.07 L82.30 192.80 L83.30 192.54 L84.30 192.27 L85.30 191.99 L86.30 191.72 L87.30 191.44 L88.30 191.16 L89.30 190.87 L90.30 190.58 L91.30 190.29 L92.30 190.00 L93.30 189.70 L94.30 189.40 L95.30 189.09 L96.30 188.78 L97.30 188.47 L98.30 188.16 L99.30 187.84 L100.30 187.51 L101.30 187.19 L102.30 186.86 L103.30 186.52 L104.30 186.18 L105.30 185.84 L106.30 185.49 L107.30 185.14 L108.30 184.79 L109.30 184.43 L110.30 184.06 L111.30 183.69 L112.30 183.32 L113.30 182.94 L114.30 182.56 L115.30 182.17 L116.30 181.78 L117.30 181.38 L118.30 180.98 L119.30 180.57 L120.30 180.16 L121.30 179.74 L122.30 179.31 L123.30 178.88 L124.30 178.45 L125.30 178.01 L126.30 177.56 L127.30 177.11 L128.30 176.65 L129.30 176.19 L130.30 175.72 L131.30 175.24 L132.30 174.76 L133.30 174.27 L134.30 173.78 L135.30 173.28 L136.30 172.77 L137.30 172.26 L138.30 171.74 L139.30 171.21 L140.30 170.68 L141.30 170.14 L142.30 169.59 L143.30 169.03 L144.30 168.47 L145.30 167.90 L146.30 167.33 L147.30 166.75 L148.30 166.16 L149.30 165.56 L150.30 164.96 L151.30 164.35 L152.30 163.74 L153.30 163.12 L154.30 162.49 L155.30 161.85 L156.30 161.21 L157.30 160.57 L158.30 159.92 L159.30 159.26 L160.30 158.59 L161.30 157.92 L162.30 157.25 L163.30 156.57 L164.30 155.88 L165.30 155.19 L166.30 154.49 L167.30 153.79 L168.30 153.08 L169.30 152.37 L170.30 151.65 L171.30 150.93 L172.30 150.20 L173.30 149.47 L174.30 148.73 L175.30 147.99 L176.30 147.25 L177.30 146.50 L178.30 145.74 L179.30 144.98 L180.30 144.22 L181.30 143.45 L182.30 142.68 L183.30 141.90 L184.30 141.12 L185.30 140.34 L186.30 139.55 L187.30 138.76 L188.30 137.96 L189.30 137.17 L190.30 136.36 L191.30 135.56 L192.30 134.75 L193.30 133.94 L194.30 133.12 L195.30 132.31 L196.30 131.49 L197.30 130.66 L198.30 129.84 L199.30 129.01 L200.30 128.18 L201.30 127.35 L202.30 126.52 L203.30 125.69 L204.30 124.85 L205.30 124.02 L206.30 123.18 L207.30 122.35 L208.30 121.51 L209.30 120.68 L210.30 119.84 L211.30 119.00 L212.30 118.17 L213.30 117.34 L214.30 116.51 L215.30 115.67 L216.30 114.85 L217.30 114.02 L218.30 113.19 L219.30 112.37 L220.30 111.55 L221.30 110.73 L222.30 109.91 L223.30 109.10 L224.30 108.29 L225.30 107.49 L226.30 106.69 L227.30 105.89 L228.30 105.09 L229.30 104.30 L230.30 103.52 L231.30 102.74 L232.30 101.96 L233.30 101.19 L234.30 100.43 L235.30 99.67 L236.30 98.92 L237.30 98.17 L238.30 97.43 L239.30 96.69 L240.30 95.97 L241.30 95.24 L242.30 94.53 L243.30 93.82 L244.30 93.12 L245.30 92.43 L246.30 91.74 L247.30 91.07 L248.30 90.39 L249.30 89.73 L250.30 89.07 L251.30 88.42 L252.30 87.78 L253.30 87.14 L254.30 86.51 L255.30 85.89 L256.30 85.27 L257.30 84.66 L258.30 84.05 L259.30 83.46 L260.30 82.87 L261.30 82.28 L262.30 81.70 L263.30 81.13 L264.30 80.57 L265.30 80.01 L266.30 79.46 L267.30 78.91 L268.30 78.37 L269.30 77.83 L270.30 77.31 L271.30 76.78 L272.30 76.27 L273.30 75.76 L274.30 75.25 L275.30 74.76 L276.30 74.26 L277.30 73.78 L278.30 73.30 L279.30 72.82 L280.30 72.35 L281.30 71.89 L282.30 71.43 L283.30 70.97 L284.30 70.53 L285.30 70.09 L286.30 69.65 L287.30 69.22 L288.30 68.79 L289.30 68.37 L290.30 67.96 L291.30 67.55 L292.30 67.14 L293.30 66.74 L294.30 66.35 L295.30 65.96 L296.30 65.57 L297.30 65.19 L298.30 64.82 L299.30 64.45 L300.30 64.08 L301.30 63.72 L302.30 63.36 L303.30 63.01 L304.30 62.67 L305.30 62.33 L306.30 61.99 L307.30 61.66 L308.30 61.33 L309.30 61.00 L310.30 60.69 L311.30 60.37 L312.30 60.06 L313.30 59.76 L314.30 59.45 L315.30 59.16 L316.30 58.87 L317.30 58.58 L318.30 58.29 L319.30 58.01 L320.30 57.74 L321.30 57.47 L322.30 57.20 L323.30 56.94 L324.30 56.68 L325.30 56.43 L326.30 56.18 L327.30 55.93 L328.30 55.69 L329.30 55.45 L330.30 55.22 L331.30 54.99 L332.30 54.77 L333.30 54.55 L334.30 54.33 L335.30 54.12 L336.30 53.91 L337.30 53.70 L338.30 53.50 L339.30 53.30 L340.30 53.11 L341.30 52.92 L342.30 52.73 L343.30 52.55 L344.30 52.37 L345.30 52.20 L346.30 52.02 L347.30 51.86 L348.30 51.69 L349.30 51.53 L350.30 51.38 L351.30 51.22 L352.30 51.07 L353.30 50.93 L354.30 50.79 L355.30 50.65 L356.30 50.51 L357.30 50.38 L358.30 50.25 L359.30 50.13 L360.30 50.01 L361.30 49.89 L362.30 49.77 L363.30 49.66 L364.30 49.55 L365.30 49.45 L366.30 49.35 L367.30 49.25 L368.30 49.15 L369.30 49.06 L370.30 48.97 L371.30 48.89 L372.30 48.80 L373.30 48.72 L374.30 48.65 L375.30 48.57 L376.30 48.50 L377.30 48.44" stroke="#303030" stroke-width="1.5"/>
</g>
<path d="M57.50 22.8 V205.7" stroke="#1a1a1a" stroke-width="0.8" fill="none"/>
<path d="M7.800000000000001 206.0 H377.8" stroke="#000" stroke-width="0.45" fill="none"/>
<path d=" M8.30 205.7 v6.2 M20.60 205.7 v3.2 M32.90 205.7 v3.2 M45.20 205.7 v3.2 M57.50 205.7 v3.2 M69.80 205.7 v3.2 M82.10 205.7 v6.2 M94.40 205.7 v3.2 M106.70 205.7 v3.2 M119.00 205.7 v3.2 M131.30 205.7 v3.2 M143.60 205.7 v3.2 M155.90 205.7 v6.2 M168.20 205.7 v3.2 M180.50 205.7 v3.2 M192.80 205.7 v3.2 M205.10 205.7 v3.2 M217.40 205.7 v3.2 M229.70 205.7 v6.2 M242.00 205.7 v3.2 M254.30 205.7 v3.2 M266.60 205.7 v3.2 M278.90 205.7 v3.2 M291.20 205.7 v3.2 M303.50 205.7 v6.2 M315.80 205.7 v3.2 M328.10 205.7 v3.2 M340.40 205.7 v3.2 M352.70 205.7 v3.2 M365.00 205.7 v3.2 M377.30 205.7 v6.2" stroke="#222" stroke-width="0.65" fill="none"/>
<path d="M397.6 205.89999999999998 V26.8 M766.7 26.8 V205.89999999999998 M396.90000000000003 205.95 H767.4000000000001" fill="none" stroke="#808080" stroke-width="1.5"/>
<path d="M396.90000000000003 26.95 H767.4000000000001" fill="none" stroke="#808080" stroke-width="1.9"/>
<g clip-path="url(#cr)" fill="none">
<path d="M397.60 205.70 L397.85 205.39 L398.10 205.26 L398.35 205.25 L398.60 205.30 L398.85 205.35 L399.10 205.33 L399.35 205.19 L399.60 204.93 L399.85 204.58 L400.10 204.15 L400.35 203.64 L400.60 203.08 L400.85 202.48 L401.10 201.85 L401.35 201.21 L401.60 200.56 L401.85 199.91 L402.10 199.26 L402.35 198.60 L402.60 197.94 L402.85 197.27 L403.10 196.59 L403.35 195.90 L403.60 195.21 L403.85 194.51 L404.10 193.80 L404.35 193.07 L404.60 192.34 L404.85 191.60 L405.10 190.84 L405.35 190.07 L405.60 189.28 L405.85 188.49 L406.10 187.67 L406.35 186.84 L406.60 186.00 L406.85 185.14 L407.10 184.26 L407.35 183.38 L407.60 182.47 L407.85 181.56 L408.10 180.63 L408.35 179.69 L408.60 178.75 L408.85 177.79 L409.10 176.82 L409.35 175.84 L409.60 174.85 L409.85 173.86 L410.10 172.85 L410.35 171.85 L410.60 170.83 L410.85 169.81 L411.10 168.78 L411.35 167.75 L411.60 166.72 L411.85 165.68 L412.10 164.64 L412.35 163.60 L412.60 162.56 L412.85 161.51 L413.10 160.47 L413.35 159.43 L413.60 158.38 L413.85 157.34 L414.10 156.30 L414.35 155.27 L414.60 154.23 L414.85 153.20 L415.10 152.18 L415.35 151.16 L415.60 150.14 L415.85 149.13 L416.10 148.13 L416.35 147.12 L416.60 146.13 L416.85 145.14 L417.10 144.15 L417.35 143.17 L417.60 142.20 L417.85 141.23 L418.10 140.27 L418.35 139.31 L418.60 138.36 L418.85 137.42 L419.10 136.48 L419.35 135.55 L419.60 134.62 L419.85 133.70 L420.10 132.79 L420.35 131.88 L420.60 130.98 L420.85 130.09 L421.10 129.21 L421.35 128.33 L421.60 127.46 L421.85 126.59 L422.10 125.74 L422.35 124.89 L422.60 124.05 L422.85 123.22 L423.10 122.39 L423.35 121.58 L423.60 120.77 L423.85 119.97 L424.10 119.18 L424.35 118.39 L424.60 117.62 L424.85 116.85 L425.10 116.10 L425.35 115.35 L425.60 114.61 L425.85 113.88 L426.10 113.15 L426.35 112.44 L426.60 111.73 L426.85 111.03 L427.10 110.34 L427.35 109.66 L427.60 108.99 L427.85 108.32 L428.10 107.66 L428.35 107.01 L428.60 106.37 L428.85 105.73 L429.10 105.11 L429.35 104.49 L429.60 103.87 L429.85 103.27 L430.10 102.67 L430.35 102.08 L430.60 101.50 L430.85 100.92 L431.10 100.36 L431.35 99.80 L431.60 99.24 L431.85 98.69 L432.10 98.15 L432.35 97.62 L432.60 97.09 L432.85 96.57 L433.10 96.06 L433.35 95.55 L433.60 95.05 L433.85 94.56 L434.10 94.07 L434.35 93.59 L434.60 93.12 L434.85 92.65 L435.10 92.19 L435.35 91.73 L435.60 91.28 L435.85 90.84 L436.10 90.40 L436.35 89.97 L436.60 89.54 L436.85 89.12 L437.10 88.70 L437.35 88.29 L437.60 87.89 L437.85 87.49 L438.10 87.10 L438.35 86.71 L438.60 86.33 L438.85 85.95 L439.10 85.58 L439.35 85.21 L439.60 84.84 L439.85 84.49 L440.10 84.13 L440.35 83.79 L440.60 83.44 L440.85 83.10 L441.10 82.77 L441.35 82.44 L441.60 82.11 L441.85 81.79 L442.10 81.48 L442.35 81.16 L442.60 80.86 L442.85 80.55 L443.10 80.25 L443.35 79.95 L443.60 79.66 L443.85 79.37 L444.10 79.09 L444.35 78.81 L444.60 78.53 L444.85 78.25 L445.10 77.98 L445.35 77.72 L445.60 77.45 L445.85 77.19 L446.10 76.93 L446.35 76.68 L446.60 76.43 L446.85 76.18 L447.10 75.94 L447.35 75.69 L447.60 75.45 L447.85 75.22 L448.10 74.98 L448.35 74.75 L448.60 74.52 L448.85 74.29 L449.10 74.07 L449.35 73.85 L449.60 73.63 L449.85 73.41 L450.10 73.19 L450.35 72.98 L450.60 72.77 L450.85 72.56 L451.10 72.35 L451.35 72.14 L451.60 71.94 L451.85 71.73 L452.10 71.53 L452.35 71.33 L452.60 71.14 L452.85 70.94 L453.10 70.74 L453.35 70.55 L453.60 70.36 L453.85 70.17 L454.10 69.98 L454.35 69.79 L454.60 69.60 L454.85 69.42 L455.10 69.24 L455.35 69.06 L455.60 68.87 L455.85 68.70 L456.10 68.52 L456.35 68.34 L456.60 68.17 L456.85 68.00 L457.10 67.82 L457.35 67.65 L457.60 67.48 L457.85 67.32 L458.10 67.15 L458.35 66.98 L458.60 66.82 L458.85 66.66 L459.10 66.50 L459.35 66.34 L459.60 66.18 L459.85 66.02 L460.10 65.87 L460.35 65.71 L460.60 65.56 L460.85 65.41 L461.10 65.26 L461.35 65.11 L461.60 64.96 L461.85 64.81 L462.10 64.66 L462.35 64.52 L462.60 64.38 L462.85 64.23 L463.10 64.09 L463.35 63.95 L463.60 63.81 L463.85 63.67 L464.10 63.54 L464.35 63.40 L464.60 63.27 L464.85 63.13 L465.10 63.00 L465.35 62.87 L465.60 62.74 L465.85 62.61 L466.10 62.48 L466.35 62.35 L466.60 62.23 L466.85 62.10 L467.10 61.98 L467.35 61.86 L467.60 61.73 L467.85 61.61 L468.10 61.49 L468.35 61.37 L468.60 61.25 L468.85 61.14 L469.10 61.02 L469.35 60.90 L469.60 60.79 L469.85 60.67 L470.10 60.56 L470.35 60.45 L470.60 60.34 L470.85 60.23 L471.10 60.12 L471.35 60.01 L471.60 59.90 L471.85 59.79 L472.10 59.69 L472.35 59.58 L472.60 59.48 L472.85 59.37 L473.10 59.27 L473.35 59.17 L473.60 59.07 L473.85 58.96 L474.10 58.86 L474.35 58.76 L474.60 58.67 L474.85 58.57 L475.10 58.47 L475.35 58.37 L475.60 58.28 L475.85 58.18 L476.10 58.09 L476.35 58.00 L476.60 57.90 L476.85 57.81 L477.10 57.72 L477.35 57.63 L477.60 57.54 L477.85 57.45 L478.10 57.36 L478.35 57.27 L478.60 57.19 L478.85 57.10 L479.10 57.02 L479.35 56.93 L479.60 56.85 L479.85 56.76 L480.10 56.68 L480.35 56.60 L480.60 56.51 L480.85 56.43 L481.10 56.35 L481.35 56.27 L481.60 56.19 L481.85 56.11 L482.10 56.04 L482.35 55.96 L482.60 55.88 L482.85 55.80 L483.10 55.73 L483.35 55.65 L483.60 55.58 L483.85 55.50 L484.10 55.43 L484.35 55.36 L484.60 55.29 L484.85 55.21 L485.10 55.14 L485.35 55.07 L485.60 55.00 L485.85 54.93 L486.10 54.86 L486.35 54.79 L486.60 54.73 L486.85 54.66 L487.10 54.59 L487.35 54.52 L487.60 54.46 L487.85 54.39 L488.10 54.33 L488.35 54.26 L488.60 54.20 L488.85 54.14 L489.10 54.07 L489.35 54.01 L489.60 53.95 L489.85 53.88 L490.10 53.82 L490.35 53.76 L490.60 53.70 L490.85 53.64 L491.10 53.58 L491.35 53.52 L491.60 53.46 L491.85 53.41 L492.10 53.35 L492.35 53.29 L492.60 53.23 L492.85 53.18 L493.10 53.12 L493.35 53.06 L493.60 53.01 L493.85 52.95 L494.10 52.90 L494.35 52.84 L494.60 52.79 L494.85 52.73 L495.10 52.68 L495.35 52.63 L495.60 52.57 L495.85 52.52 L496.10 52.47 L496.35 52.42 L496.60 52.36 L496.85 52.31 L497.10 52.26 L497.35 52.21 L497.60 52.16 L497.85 52.11 L498.10 52.06 L498.35 52.01 L498.60 51.96 L498.85 51.91 L499.10 51.87 L499.35 51.82 L499.60 51.77 L499.85 51.72 L500.10 51.67 L500.35 51.63 L500.60 51.58 L500.85 51.53 L501.10 51.49 L501.35 51.44 L501.60 51.40 L501.85 51.35 L502.10 51.31 L502.35 51.26 L502.60 51.22 L502.85 51.17 L503.10 51.13 L503.35 51.09 L503.60 51.04 L503.85 51.00 L504.10 50.96 L504.35 50.91 L504.60 50.87 L504.85 50.83 L505.10 50.79 L505.35 50.75 L505.60 50.71 L505.85 50.66 L506.10 50.62 L506.35 50.58 L506.60 50.54 L506.85 50.50 L507.10 50.46 L507.35 50.42 L507.60 50.39 L507.85 50.35 L508.10 50.31 L508.35 50.27 L508.60 50.23 L508.85 50.19 L509.10 50.16 L509.35 50.12 L509.60 50.08 L509.85 50.05 L510.10 50.01 L510.35 49.97 L510.60 49.94 L510.85 49.90 L511.10 49.87 L511.35 49.83 L511.60 49.80 L511.85 49.76 L512.10 49.73 L512.35 49.69 L512.60 49.66 L512.85 49.62 L513.10 49.59 L513.35 49.56 L513.60 49.52 L513.85 49.49 L514.10 49.46 L514.35 49.42 L514.60 49.39 L514.85 49.36 L515.10 49.33 L515.35 49.30 L515.60 49.27 L515.85 49.23 L516.10 49.20 L516.35 49.17 L516.60 49.14 L516.85 49.11 L517.10 49.08 L517.35 49.05 L517.60 49.02 L517.85 48.99 L518.10 48.96 L518.35 48.93 L518.60 48.90 L518.85 48.87 L519.10 48.85 L519.35 48.82 L519.60 48.79 L519.85 48.76 L520.10 48.73 L520.35 48.71 L520.60 48.68 L520.85 48.65 L521.10 48.62 L521.35 48.60 L521.60 48.57 L521.85 48.54 L522.10 48.52 L522.35 48.49 L522.60 48.46 L522.85 48.44 L523.10 48.41 L523.35 48.39 L523.60 48.36 L523.85 48.34 L524.10 48.31 L524.35 48.29 L524.60 48.26 L524.85 48.24 L525.10 48.21 L525.35 48.19 L525.60 48.16 L525.85 48.14 L526.10 48.12 L526.35 48.09 L526.60 48.07 L526.85 48.05 L527.10 48.02 L527.35 48.00 L527.60 47.98 L527.85 47.95 L528.10 47.93 L528.35 47.91 L528.60 47.89 L528.85 47.87 L529.10 47.84 L529.35 47.82 L529.60 47.80 L529.85 47.78 L530.10 47.76 L530.35 47.74 L530.60 47.71 L530.85 47.69 L531.10 47.67 L531.35 47.65 L531.60 47.63 L531.85 47.61 L532.10 47.59 L532.35 47.57 L532.60 47.55 L532.85 47.53 L533.10 47.51 L533.35 47.49 L533.60 47.47 L533.85 47.45 L534.10 47.43 L534.35 47.41 L534.60 47.39 L534.85 47.37 L535.10 47.35 L535.35 47.33 L535.60 47.32 L535.85 47.30 L536.10 47.28 L536.35 47.26 L536.60 47.24 L536.85 47.22 L537.10 47.20 L537.35 47.19 L537.60 47.17 L537.85 47.15 L538.10 47.13 L538.35 47.11 L538.60 47.10 L538.85 47.08 L539.10 47.06 L539.35 47.04 L539.60 47.03 L539.85 47.01 L540.10 46.99 L540.35 46.98 L540.60 46.96 L540.85 46.94 L541.10 46.92 L541.35 46.91 L541.60 46.89 L541.85 46.87 L542.10 46.86 L542.35 46.84 L542.60 46.82 L542.85 46.81 L543.10 46.79 L543.35 46.78 L543.60 46.76 L543.85 46.74 L544.10 46.73 L544.35 46.71 L544.60 46.69 L544.85 46.68 L545.10 46.66 L545.35 46.65 L545.60 46.63 L545.85 46.61 L546.10 46.60 L546.35 46.58 L546.60 46.57 L546.85 46.55 L547.10 46.54 L547.35 46.52 L547.60 46.51 L547.85 46.49 L548.10 46.47 L548.35 46.46 L548.60 46.44 L548.85 46.43 L549.10 46.41 L549.35 46.40 L549.60 46.38 L549.85 46.37 L550.10 46.35 L550.35 46.34 L550.60 46.32 L550.85 46.31 L551.10 46.29 L551.35 46.28 L551.60 46.26 L551.85 46.25 L552.10 46.24 L552.35 46.22 L552.60 46.21 L552.85 46.19 L553.10 46.18 L553.35 46.16 L553.60 46.15 L553.85 46.13 L554.10 46.12 L554.35 46.11 L554.60 46.09 L554.85 46.08 L555.10 46.06 L555.35 46.05 L555.60 46.04 L555.85 46.02 L556.10 46.01 L556.35 45.99 L556.60 45.98 L556.85 45.97 L557.10 45.95 L557.35 45.94 L557.60 45.93 L557.85 45.91 L558.10 45.90 L558.35 45.88 L558.60 45.87 L558.85 45.86 L559.10 45.84 L559.35 45.83 L559.60 45.82 L559.85 45.80 L560.10 45.79 L560.35 45.78 L560.60 45.76 L560.85 45.75 L561.10 45.74 L561.35 45.73 L561.60 45.71 L561.85 45.70 L562.10 45.69 L562.35 45.67 L562.60 45.66 L562.85 45.65 L563.10 45.64 L563.35 45.62 L563.60 45.61 L563.85 45.60 L564.10 45.59 L564.35 45.57 L564.60 45.56 L564.85 45.55 L565.10 45.54 L565.35 45.52 L565.60 45.51 L565.85 45.50 L566.10 45.49 L566.35 45.47 L566.60 45.46 L566.85 45.45 L567.10 45.44 L567.35 45.43 L567.60 45.41 L567.85 45.40 L568.10 45.39 L568.35 45.38 L568.60 45.37 L568.85 45.35 L569.10 45.34 L569.35 45.33 L569.60 45.32 L569.85 45.31 L570.10 45.29 L570.35 45.28 L570.60 45.27 L570.85 45.26 L571.10 45.25 L571.35 45.24 L571.60 45.23 L571.85 45.21 L572.10 45.20 L572.35 45.19 L572.60 45.18 L572.85 45.17 L573.10 45.16 L573.35 45.15 L573.60 45.13 L573.85 45.12 L574.10 45.11 L574.35 45.10 L574.60 45.09 L574.85 45.08 L575.10 45.07 L575.35 45.06 L575.60 45.05 L575.85 45.04 L576.10 45.02 L576.35 45.01 L576.60 45.00 L576.85 44.99 L577.10 44.98 L577.35 44.97 L577.60 44.96 L577.85 44.95 L578.10 44.94 L578.35 44.93 L578.60 44.92 L578.85 44.91 L579.10 44.90 L579.35 44.89 L579.60 44.88 L579.85 44.86 L580.10 44.85 L580.35 44.84 L580.60 44.83 L580.85 44.82 L581.10 44.81 L581.35 44.80 L581.60 44.79 L581.85 44.78 L582.10 44.77 L582.35 44.76 L582.60 44.75 L582.85 44.74 L583.10 44.73 L583.35 44.72 L583.60 44.71 L583.85 44.70 L584.10 44.69 L584.35 44.68 L584.60 44.67 L584.85 44.66 L585.10 44.65 L585.35 44.64 L585.60 44.63 L585.85 44.62 L586.10 44.61 L586.35 44.60 L586.60 44.59 L586.85 44.59 L587.10 44.58 L587.35 44.57 L587.60 44.56 L587.85 44.55 L588.10 44.54 L588.35 44.53 L588.60 44.52 L588.85 44.51 L589.10 44.50 L589.35 44.49 L589.60 44.48 L589.85 44.47 L590.10 44.46 L590.35 44.45 L590.60 44.44 L590.85 44.43 L591.10 44.43 L591.35 44.42 L591.60 44.41 L591.85 44.40 L592.10 44.39 L592.35 44.38 L592.60 44.37 L592.85 44.36 L593.10 44.35 L593.35 44.34 L593.60 44.34 L593.85 44.33 L594.10 44.32 L594.35 44.31 L594.60 44.30 L594.85 44.29 L595.10 44.28 L595.35 44.27 L595.60 44.26 L595.85 44.26 L596.10 44.25 L596.35 44.24 L596.60 44.23 L596.85 44.22 L597.10 44.21 L597.35 44.20 L597.60 44.19 L597.85 44.19 L598.10 44.18 L598.35 44.17 L598.60 44.16 L598.85 44.15 L599.10 44.14 L599.35 44.14 L599.60 44.13 L599.85 44.12 L600.10 44.11 L600.35 44.10 L600.60 44.09 L600.85 44.08 L601.10 44.08 L601.35 44.07 L601.60 44.06 L601.85 44.05 L602.10 44.04 L602.35 44.03 L602.60 44.03 L602.85 44.02 L603.10 44.01 L603.35 44.00 L603.60 43.99 L603.85 43.99 L604.10 43.98 L604.35 43.97 L604.60 43.96 L604.85 43.95 L605.10 43.95 L605.35 43.94 L605.60 43.93 L605.85 43.92 L606.10 43.91 L606.35 43.91 L606.60 43.90 L606.85 43.89 L607.10 43.88 L607.35 43.87 L607.60 43.87 L607.85 43.86 L608.10 43.85 L608.35 43.84 L608.60 43.83 L608.85 43.83 L609.10 43.82 L609.35 43.81 L609.60 43.80 L609.85 43.80 L610.10 43.79 L610.35 43.78 L610.60 43.77 L610.85 43.76 L611.10 43.76 L611.35 43.75 L611.60 43.74 L611.85 43.73 L612.10 43.73 L612.35 43.72 L612.60 43.71 L612.85 43.70 L613.10 43.70 L613.35 43.69 L613.60 43.68 L613.85 43.67 L614.10 43.66 L614.35 43.66 L614.60 43.65 L614.85 43.64 L615.10 43.63 L615.35 43.63 L615.60 43.62 L615.85 43.61 L616.10 43.60 L616.35 43.60 L616.60 43.59 L616.85 43.58 L617.10 43.58 L617.35 43.57 L617.60 43.56 L617.85 43.55 L618.10 43.55 L618.35 43.54 L618.60 43.53 L618.85 43.52 L619.10 43.52 L619.35 43.51 L619.60 43.50 L619.85 43.49 L620.10 43.49 L620.35 43.48 L620.60 43.47 L620.85 43.46 L621.10 43.46 L621.35 43.45 L621.60 43.44 L621.85 43.44 L622.10 43.43 L622.35 43.42 L622.60 43.41 L622.85 43.41 L623.10 43.40 L623.35 43.39 L623.60 43.38 L623.85 43.38 L624.10 43.37 L624.35 43.36 L624.60 43.36 L624.85 43.35 L625.10 43.34 L625.35 43.33 L625.60 43.33 L625.85 43.32 L626.10 43.31 L626.35 43.31 L626.60 43.30 L626.85 43.29 L627.10 43.28 L627.35 43.28 L627.60 43.27 L627.85 43.26 L628.10 43.26 L628.35 43.25 L628.60 43.24 L628.85 43.24 L629.10 43.23 L629.35 43.22 L629.60 43.21 L629.85 43.21 L630.10 43.20 L630.35 43.19 L630.60 43.19 L630.85 43.18 L631.10 43.17 L631.35 43.17 L631.60 43.16 L631.85 43.15 L632.10 43.14 L632.35 43.14 L632.60 43.13 L632.85 43.12 L633.10 43.12 L633.35 43.11 L633.60 43.10 L633.85 43.10 L634.10 43.09 L634.35 43.08 L634.60 43.08 L634.85 43.07 L635.10 43.06 L635.35 43.06 L635.60 43.05 L635.85 43.04 L636.10 43.04 L636.35 43.03 L636.60 43.02 L636.85 43.02 L637.10 43.01 L637.35 43.00 L637.60 42.99 L637.85 42.99 L638.10 42.98 L638.35 42.97 L638.60 42.97 L638.85 42.96 L639.10 42.95 L639.35 42.95 L639.60 42.94 L639.85 42.93 L640.10 42.93 L640.35 42.92 L640.60 42.91 L640.85 42.91 L641.10 42.90 L641.35 42.90 L641.60 42.89 L641.85 42.88 L642.10 42.88 L642.35 42.87 L642.60 42.86 L642.85 42.86 L643.10 42.85 L643.35 42.84 L643.60 42.84 L643.85 42.83 L644.10 42.82 L644.35 42.82 L644.60 42.81 L644.85 42.80 L645.10 42.80 L645.35 42.79 L645.60 42.78 L645.85 42.78 L646.10 42.77 L646.35 42.76 L646.60 42.76 L646.85 42.75 L647.10 42.75 L647.35 42.74 L647.60 42.73 L647.85 42.73 L648.10 42.72 L648.35 42.71 L648.60 42.71 L648.85 42.70 L649.10 42.69 L649.35 42.69 L649.60 42.68 L649.85 42.68 L650.10 42.67 L650.35 42.66 L650.60 42.66 L650.85 42.65 L651.10 42.64 L651.35 42.64 L651.60 42.63 L651.85 42.63 L652.10 42.62 L652.35 42.61 L652.60 42.61 L652.85 42.60 L653.10 42.59 L653.35 42.59 L653.60 42.58 L653.85 42.58 L654.10 42.57 L654.35 42.56 L654.60 42.56 L654.85 42.55 L655.10 42.55 L655.35 42.54 L655.60 42.53 L655.85 42.53 L656.10 42.52 L656.35 42.52 L656.60 42.51 L656.85 42.50 L657.10 42.50 L657.35 42.49 L657.60 42.49 L657.85 42.48 L658.10 42.47 L658.35 42.47 L658.60 42.46 L658.85 42.46 L659.10 42.45 L659.35 42.44 L659.60 42.44 L659.85 42.43 L660.10 42.43 L660.35 42.42 L660.60 42.41 L660.85 42.41 L661.10 42.40 L661.35 42.40 L661.60 42.39 L661.85 42.38 L662.10 42.38 L662.35 42.37 L662.60 42.37 L662.85 42.36 L663.10 42.35 L663.35 42.35 L663.60 42.34 L663.85 42.34 L664.10 42.33 L664.35 42.33 L664.60 42.32 L664.85 42.31 L665.10 42.31 L665.35 42.30 L665.60 42.30 L665.85 42.29 L666.10 42.29 L666.35 42.28 L666.60 42.27 L666.85 42.27 L667.10 42.26 L667.35 42.26 L667.60 42.25 L667.85 42.25 L668.10 42.24 L668.35 42.23 L668.60 42.23 L668.85 42.22 L669.10 42.22 L669.35 42.21 L669.60 42.21 L669.85 42.20 L670.10 42.19 L670.35 42.19 L670.60 42.18 L670.85 42.18 L671.10 42.17 L671.35 42.17 L671.60 42.16 L671.85 42.16 L672.10 42.15 L672.35 42.14 L672.60 42.14 L672.85 42.13 L673.10 42.13 L673.35 42.12 L673.60 42.12 L673.85 42.11 L674.10 42.11 L674.35 42.10 L674.60 42.10 L674.85 42.09 L675.10 42.08 L675.35 42.08 L675.60 42.07 L675.85 42.07 L676.10 42.06 L676.35 42.06 L676.60 42.05 L676.85 42.05 L677.10 42.04 L677.35 42.04 L677.60 42.03 L677.85 42.03 L678.10 42.02 L678.35 42.02 L678.60 42.01 L678.85 42.00 L679.10 42.00 L679.35 41.99 L679.60 41.99 L679.85 41.98 L680.10 41.98 L680.35 41.97 L680.60 41.97 L680.85 41.96 L681.10 41.96 L681.35 41.95 L681.60 41.95 L681.85 41.94 L682.10 41.94 L682.35 41.93 L682.60 41.93 L682.85 41.92 L683.10 41.92 L683.35 41.91 L683.60 41.91 L683.85 41.90 L684.10 41.90 L684.35 41.89 L684.60 41.89 L684.85 41.88 L685.10 41.88 L685.35 41.87 L685.60 41.87 L685.85 41.86 L686.10 41.86 L686.35 41.85 L686.60 41.85 L686.85 41.84 L687.10 41.84 L687.35 41.83 L687.60 41.83 L687.85 41.82 L688.10 41.82 L688.35 41.81 L688.60 41.81 L688.85 41.80 L689.10 41.80 L689.35 41.79 L689.60 41.79 L689.85 41.78 L690.10 41.78 L690.35 41.77 L690.60 41.77 L690.85 41.76 L691.10 41.76 L691.35 41.75 L691.60 41.75 L691.85 41.74 L692.10 41.74 L692.35 41.73 L692.60 41.73 L692.85 41.72 L693.10 41.72 L693.35 41.71 L693.60 41.71 L693.85 41.70 L694.10 41.70 L694.35 41.70 L694.60 41.69 L694.85 41.69 L695.10 41.68 L695.35 41.68 L695.60 41.67 L695.85 41.67 L696.10 41.66 L696.35 41.66 L696.60 41.65 L696.85 41.65 L697.10 41.64 L697.35 41.64 L697.60 41.63 L697.85 41.63 L698.10 41.63 L698.35 41.62 L698.60 41.62 L698.85 41.61 L699.10 41.61 L699.35 41.60 L699.60 41.60 L699.85 41.59 L700.10 41.59 L700.35 41.58 L700.60 41.58 L700.85 41.58 L701.10 41.57 L701.35 41.57 L701.60 41.56 L701.85 41.56 L702.10 41.55 L702.35 41.55 L702.60 41.54 L702.85 41.54 L703.10 41.54 L703.35 41.53 L703.60 41.53 L703.85 41.52 L704.10 41.52 L704.35 41.51 L704.60 41.51 L704.85 41.50 L705.10 41.50 L705.35 41.50 L705.60 41.49 L705.85 41.49 L706.10 41.48 L706.35 41.48 L706.60 41.47 L706.85 41.47 L707.10 41.47 L707.35 41.46 L707.60 41.46 L707.85 41.45 L708.10 41.45 L708.35 41.45 L708.60 41.44 L708.85 41.44 L709.10 41.43 L709.35 41.43 L709.60 41.42 L709.85 41.42 L710.10 41.42 L710.35 41.41 L710.60 41.41 L710.85 41.40 L711.10 41.40 L711.35 41.40 L711.60 41.39 L711.85 41.39 L712.10 41.38 L712.35 41.38 L712.60 41.37 L712.85 41.37 L713.10 41.37 L713.35 41.36 L713.60 41.36 L713.85 41.35 L714.10 41.35 L714.35 41.35 L714.60 41.34 L714.85 41.34 L715.10 41.33 L715.35 41.33 L715.60 41.33 L715.85 41.32 L716.10 41.32 L716.35 41.32 L716.60 41.31 L716.85 41.31 L717.10 41.30 L717.35 41.30 L717.60 41.30 L717.85 41.29 L718.10 41.29 L718.35 41.28 L718.60 41.28 L718.85 41.28 L719.10 41.27 L719.35 41.27 L719.60 41.26 L719.85 41.26 L720.10 41.26 L720.35 41.25 L720.60 41.25 L720.85 41.25 L721.10 41.24 L721.35 41.24 L721.60 41.23 L721.85 41.23 L722.10 41.23 L722.35 41.22 L722.60 41.22 L722.85 41.22 L723.10 41.21 L723.35 41.21 L723.60 41.21 L723.85 41.20 L724.10 41.20 L724.35 41.19 L724.60 41.19 L724.85 41.19 L725.10 41.18 L725.35 41.18 L725.60 41.18 L725.85 41.17 L726.10 41.17 L726.35 41.17 L726.60 41.16 L726.85 41.16 L727.10 41.15 L727.35 41.15 L727.60 41.15 L727.85 41.14 L728.10 41.14 L728.35 41.14 L728.60 41.13 L728.85 41.13 L729.10 41.13 L729.35 41.12 L729.60 41.12 L729.85 41.12 L730.10 41.11 L730.35 41.11 L730.60 41.11 L730.85 41.10 L731.10 41.10 L731.35 41.10 L731.60 41.09 L731.85 41.09 L732.10 41.09 L732.35 41.08 L732.60 41.08 L732.85 41.08 L733.10 41.07 L733.35 41.07 L733.60 41.07 L733.85 41.06 L734.10 41.06 L734.35 41.06 L734.60 41.05 L734.85 41.05 L735.10 41.05 L735.35 41.04 L735.60 41.04 L735.85 41.04 L736.10 41.03 L736.35 41.03 L736.60 41.03 L736.85 41.02 L737.10 41.02 L737.35 41.02 L737.60 41.02 L737.85 41.01 L738.10 41.01 L738.35 41.01 L738.60 41.00 L738.85 41.00 L739.10 41.00 L739.35 40.99 L739.60 40.99 L739.85 40.99 L740.10 40.98 L740.35 40.98 L740.60 40.98 L740.85 40.98 L741.10 40.97 L741.35 40.97 L741.60 40.97 L741.85 40.96 L742.10 40.96 L742.35 40.96 L742.60 40.95 L742.85 40.95 L743.10 40.95 L743.35 40.95 L743.60 40.94 L743.85 40.94 L744.10 40.94 L744.35 40.93 L744.60 40.93 L744.85 40.93 L745.10 40.93 L745.35 40.92 L745.60 40.92 L745.85 40.92 L746.10 40.91 L746.35 40.91 L746.60 40.91 L746.85 40.91 L747.10 40.90 L747.35 40.90 L747.60 40.90 L747.85 40.89 L748.10 40.89 L748.35 40.89 L748.60 40.89 L748.85 40.88 L749.10 40.88 L749.35 40.88 L749.60 40.88 L749.85 40.87 L750.10 40.87 L750.35 40.87 L750.60 40.86 L750.85 40.86 L751.10 40.86 L751.35 40.86 L751.60 40.85 L751.85 40.85 L752.10 40.85 L752.35 40.85 L752.60 40.84 L752.85 40.84 L753.10 40.84 L753.35 40.84 L753.60 40.83 L753.85 40.83 L754.10 40.83 L754.35 40.83 L754.60 40.82 L754.85 40.82 L755.10 40.82 L755.35 40.82 L755.60 40.81 L755.85 40.81 L756.10 40.81 L756.35 40.81 L756.60 40.80 L756.85 40.80 L757.10 40.80 L757.35 40.80 L757.60 40.79 L757.85 40.79 L758.10 40.79 L758.35 40.79 L758.60 40.78 L758.85 40.78 L759.10 40.78 L759.35 40.78 L759.60 40.78 L759.85 40.77 L760.10 40.77 L760.35 40.77 L760.60 40.77 L760.85 40.76 L761.10 40.76 L761.35 40.76 L761.60 40.76 L761.85 40.75 L762.10 40.75 L762.35 40.75 L762.60 40.75 L762.85 40.75 L763.10 40.74 L763.35 40.74 L763.60 40.74 L763.85 40.74 L764.10 40.73 L764.35 40.73 L764.60 40.73 L764.85 40.73 L765.10 40.73 L765.35 40.72 L765.60 40.72 L765.85 40.72 L766.10 40.72 L766.35 40.72 L766.60 40.71 L766.70 40.71" stroke="#b040e0" stroke-width="1.6" stroke-dasharray="5.9 2.55 2.3 2.55" stroke-dashoffset="11.61"/>
<path d="M397.60 205.71 L398.60 205.54 L399.60 205.42 L400.60 205.31 L401.60 205.19 L402.60 205.05 L403.60 204.84 L404.60 204.56 L405.60 204.17 L406.60 203.67 L407.60 203.07 L408.60 202.39 L409.60 201.61 L410.60 200.77 L411.60 199.86 L412.60 198.89 L413.60 197.88 L414.60 196.83 L415.60 195.74 L416.60 194.63 L417.60 193.49 L418.60 192.33 L419.60 191.13 L420.60 189.90 L421.60 188.63 L422.60 187.34 L423.60 186.02 L424.60 184.66 L425.60 183.26 L426.60 181.84 L427.60 180.38 L428.60 178.88 L429.60 177.35 L430.60 175.80 L431.60 174.21 L432.60 172.61 L433.60 170.98 L434.60 169.34 L435.60 167.68 L436.60 166.01 L437.60 164.32 L438.60 162.63 L439.60 160.94 L440.60 159.24 L441.60 157.54 L442.60 155.85 L443.60 154.16 L444.60 152.48 L445.60 150.81 L446.60 149.15 L447.60 147.51 L448.60 145.89 L449.60 144.28 L450.60 142.69 L451.60 141.11 L452.60 139.54 L453.60 137.99 L454.60 136.45 L455.60 134.92 L456.60 133.41 L457.60 131.90 L458.60 130.41 L459.60 128.93 L460.60 127.45 L461.60 125.99 L462.60 124.53 L463.60 123.08 L464.60 121.63 L465.60 120.20 L466.60 118.76 L467.60 117.34 L468.60 115.92 L469.60 114.50 L470.60 113.08 L471.60 111.67 L472.60 110.26 L473.60 108.86 L474.60 107.46 L475.60 106.06 L476.60 104.67 L477.60 103.29 L478.60 101.92 L479.60 100.56 L480.60 99.20 L481.60 97.86 L482.60 96.53 L483.60 95.21 L484.60 93.90 L485.60 92.61 L486.60 91.34 L487.60 90.08 L488.60 88.84 L489.60 87.62 L490.60 86.42 L491.60 85.24 L492.60 84.08 L493.60 82.94 L494.60 81.82 L495.60 80.73 L496.60 79.67 L497.60 78.63 L498.60 77.61 L499.60 76.62 L500.60 75.65 L501.60 74.70 L502.60 73.78 L503.60 72.88 L504.60 72.00 L505.60 71.14 L506.60 70.30 L507.60 69.48 L508.60 68.68 L509.60 67.89 L510.60 67.13 L511.60 66.39 L512.60 65.66 L513.60 64.94 L514.60 64.25 L515.60 63.57 L516.60 62.90 L517.60 62.25 L518.60 61.61 L519.60 60.99 L520.60 60.37 L521.60 59.78 L522.60 59.19 L523.60 58.61 L524.60 58.04 L525.60 57.49 L526.60 56.94 L527.60 56.41 L528.60 55.88 L529.60 55.36 L530.60 54.84 L531.60 54.34 L532.60 53.84 L533.60 53.34 L534.60 52.86 L535.60 52.37 L536.60 51.90 L537.60 51.42 L538.60 50.96 L539.60 50.50 L540.60 50.04 L541.60 49.59 L542.60 49.15 L543.60 48.71 L544.60 48.28 L545.60 47.85 L546.60 47.43 L547.60 47.01 L548.60 46.60 L549.60 46.20 L550.60 45.79 L551.60 45.40 L552.60 45.01 L553.60 44.62 L554.60 44.24 L555.60 43.87 L556.60 43.50 L557.60 43.13 L558.60 42.78 L559.60 42.42 L560.60 42.07 L561.60 41.73 L562.60 41.39 L563.60 41.05 L564.60 40.73 L565.60 40.40 L566.60 40.08 L567.60 39.77 L568.60 39.46 L569.60 39.15 L570.60 38.85 L571.60 38.56 L572.60 38.27 L573.60 37.98 L574.60 37.70 L575.60 37.42 L576.60 37.15 L577.60 36.89 L578.60 36.62 L579.60 36.37 L580.60 36.11 L581.60 35.86 L582.60 35.62 L583.60 35.38 L584.60 35.14 L585.60 34.91 L586.60 34.69 L587.60 34.47 L588.60 34.25 L589.60 34.03 L590.60 33.82 L591.60 33.62 L592.60 33.42 L593.60 33.22 L594.60 33.02 L595.60 32.83 L596.60 32.65 L597.60 32.46 L598.60 32.28 L599.60 32.11 L600.60 31.94 L601.60 31.77 L602.60 31.60 L603.60 31.44 L604.60 31.28 L605.60 31.13 L606.60 30.97 L607.60 30.83 L608.60 30.68 L609.60 30.54 L610.60 30.40 L611.60 30.26 L612.60 30.12 L613.60 29.99 L614.60 29.86 L615.60 29.74 L616.60 29.61 L617.60 29.49 L618.60 29.37 L619.60 29.26 L620.60 29.14 L621.60 29.03 L622.60 28.92 L623.60 28.82 L624.60 28.71 L625.60 28.61 L626.60 28.51 L627.60 28.41 L628.60 28.31 L629.60 28.22 L630.60 28.12 L631.60 28.03 L632.60 27.94 L633.60 27.85 L634.60 27.77 L635.60 27.68 L636.60 27.60 L637.60 27.52 L638.60 27.43 L639.60 27.36 L640.60 27.28 L641.60 27.20 L642.60 27.12 L643.60 27.05 L644.60 26.97 L645.60 26.90 L646.60 26.83 L647.60 26.76 L648.00 26.73" stroke="#0c2cdc" stroke-width="2.3" stroke-dasharray="3 3" stroke-dashoffset="4.75"/>
<path d="M397.60 205.70 L398.60 205.65 L399.60 205.45 L400.60 205.12 L401.60 204.68 L402.60 204.13 L403.60 203.48 L404.60 202.72 L405.60 201.84 L406.60 200.87 L407.60 199.81 L408.60 198.69 L409.60 197.50 L410.60 196.29 L411.60 195.04 L412.60 193.79 L413.60 192.52 L414.60 191.23 L415.60 189.92 L416.60 188.60 L417.60 187.26 L418.60 185.89 L419.60 184.51 L420.60 183.10 L421.60 181.67 L422.60 180.23 L423.60 178.78 L424.60 177.31 L425.60 175.85 L426.60 174.38 L427.60 172.92 L428.60 171.46 L429.60 170.02 L430.60 168.60 L431.60 167.19 L432.60 165.81 L433.60 164.45 L434.60 163.12 L435.60 161.81 L436.60 160.53 L437.60 159.28 L438.60 158.05 L439.60 156.85 L440.60 155.67 L441.60 154.53 L442.60 153.41 L443.60 152.31 L444.60 151.25 L445.60 150.21 L446.60 149.20 L447.60 148.22 L448.60 147.27 L449.60 146.34 L450.60 145.44 L451.60 144.57 L452.60 143.72 L453.60 142.89 L454.60 142.09 L455.60 141.32 L456.60 140.56 L457.60 139.83 L458.60 139.12 L459.60 138.43 L460.60 137.76 L461.60 137.10 L462.60 136.47 L463.60 135.86 L464.60 135.26 L465.60 134.68 L466.60 134.12 L467.60 133.57 L468.60 133.04 L469.60 132.52 L470.60 132.02 L471.60 131.53 L472.60 131.05 L473.60 130.58 L474.60 130.13 L475.60 129.68 L476.60 129.25 L477.60 128.83 L478.60 128.42 L479.60 128.02 L480.60 127.63 L481.60 127.25 L482.60 126.88 L483.60 126.51 L484.60 126.16 L485.60 125.81 L486.60 125.47 L487.60 125.14 L488.60 124.81 L489.60 124.49 L490.60 124.17 L491.60 123.86 L492.60 123.56 L493.60 123.26 L494.60 122.97 L495.60 122.68 L496.60 122.39 L497.60 122.11 L498.60 121.83 L499.60 121.55 L500.60 121.28 L501.60 121.01 L502.60 120.74 L503.60 120.48 L504.60 120.22 L505.60 119.96 L506.60 119.70 L507.60 119.45 L508.60 119.21 L509.60 118.96 L510.60 118.72 L511.60 118.48 L512.60 118.25 L513.60 118.01 L514.60 117.78 L515.60 117.56 L516.60 117.33 L517.60 117.11 L518.60 116.89 L519.60 116.68 L520.60 116.46 L521.60 116.25 L522.60 116.04 L523.60 115.84 L524.60 115.63 L525.60 115.43 L526.60 115.23 L527.60 115.03 L528.60 114.84 L529.60 114.65 L530.60 114.45 L531.60 114.27 L532.60 114.08 L533.60 113.89 L534.60 113.71 L535.60 113.53 L536.60 113.35 L537.60 113.17 L538.60 112.99 L539.60 112.82 L540.60 112.64 L541.60 112.47 L542.60 112.30 L543.60 112.13 L544.60 111.96 L545.60 111.79 L546.60 111.63 L547.60 111.46 L548.60 111.30 L549.60 111.13 L550.60 110.97 L551.60 110.81 L552.60 110.65 L553.60 110.48 L554.60 110.32 L555.60 110.16 L556.60 110.01 L557.60 109.85 L558.60 109.69 L559.60 109.53 L560.60 109.37 L561.60 109.21 L562.60 109.06 L563.60 108.90 L564.60 108.74 L565.60 108.59 L566.60 108.43 L567.60 108.27 L568.60 108.12 L569.60 107.96 L570.60 107.81 L571.60 107.65 L572.60 107.50 L573.60 107.35 L574.60 107.19 L575.60 107.04 L576.60 106.89 L577.60 106.73 L578.60 106.58 L579.60 106.43 L580.60 106.28 L581.60 106.12 L582.60 105.97 L583.60 105.82 L584.60 105.67 L585.60 105.52 L586.60 105.37 L587.60 105.22 L588.60 105.07 L589.60 104.92 L590.60 104.77 L591.60 104.62 L592.60 104.47 L593.60 104.32 L594.60 104.17 L595.60 104.03 L596.60 103.88 L597.60 103.73 L598.60 103.58 L599.60 103.44 L600.60 103.29 L601.60 103.14 L602.60 102.99 L603.60 102.85 L604.60 102.70 L605.60 102.55 L606.60 102.41 L607.60 102.26 L608.60 102.12 L609.60 101.97 L610.60 101.83 L611.60 101.68 L612.60 101.53 L613.60 101.39 L614.60 101.25 L615.60 101.10 L616.60 100.96 L617.60 100.81 L618.60 100.67 L619.60 100.52 L620.60 100.38 L621.60 100.24 L622.60 100.09 L623.60 99.95 L624.60 99.80 L625.60 99.66 L626.60 99.52 L627.60 99.38 L628.60 99.23 L629.60 99.09 L630.60 98.95 L631.60 98.81 L632.60 98.66 L633.60 98.52 L634.60 98.38 L635.60 98.24 L636.60 98.10 L637.60 97.95 L638.60 97.81 L639.60 97.67 L640.60 97.53 L641.60 97.39 L642.60 97.25 L643.60 97.11 L644.60 96.97 L645.60 96.83 L646.60 96.69 L647.60 96.55 L648.60 96.41 L649.60 96.27 L650.60 96.13 L651.60 95.99 L652.60 95.85 L653.60 95.71 L654.60 95.57 L655.60 95.43 L656.60 95.29 L657.60 95.15 L658.60 95.01 L659.60 94.88 L660.60 94.74 L661.60 94.60 L662.60 94.46 L663.60 94.32 L664.60 94.19 L665.60 94.05 L666.60 93.91 L667.60 93.77 L668.60 93.64 L669.60 93.50 L670.60 93.36 L671.60 93.23 L672.60 93.09 L673.60 92.96 L674.60 92.82 L675.60 92.68 L676.60 92.55 L677.60 92.41 L678.60 92.28 L679.60 92.14 L680.60 92.01 L681.60 91.87 L682.60 91.74 L683.60 91.60 L684.60 91.47 L685.60 91.33 L686.60 91.20 L687.60 91.06 L688.60 90.93 L689.60 90.80 L690.60 90.66 L691.60 90.53 L692.60 90.40 L693.60 90.26 L694.60 90.13 L695.60 90.00 L696.60 89.86 L697.60 89.73 L698.60 89.60 L699.60 89.47 L700.60 89.33 L701.60 89.20 L702.60 89.07 L703.60 88.94 L704.60 88.81 L705.60 88.68 L706.60 88.55 L707.60 88.41 L708.60 88.28 L709.60 88.15 L710.60 88.02 L711.60 87.89 L712.60 87.76 L713.60 87.63 L714.60 87.50 L715.60 87.37 L716.60 87.24 L717.60 87.11 L718.60 86.98 L719.60 86.86 L720.60 86.73 L721.60 86.60 L722.60 86.47 L723.60 86.34 L724.60 86.21 L725.60 86.09 L726.60 85.96 L727.60 85.83 L728.60 85.70 L729.60 85.57 L730.60 85.45 L731.60 85.32 L732.60 85.19 L733.60 85.07 L734.60 84.94 L735.60 84.81 L736.60 84.69 L737.60 84.56 L738.60 84.44 L739.60 84.31 L740.60 84.19 L741.60 84.06 L742.60 83.93 L743.60 83.81 L744.60 83.68 L745.60 83.56 L746.60 83.44 L747.60 83.31 L748.60 83.19 L749.60 83.06 L750.60 82.94 L751.60 82.82 L752.60 82.69 L753.60 82.57 L754.60 82.45 L755.60 82.32 L756.60 82.20 L757.60 82.08 L758.60 81.95 L759.60 81.83 L760.60 81.71 L761.60 81.59 L762.60 81.47 L763.60 81.35 L764.60 81.22 L765.60 81.10 L766.60 80.98 L766.70 80.97" stroke="#ff0000" stroke-width="2.1" stroke-dasharray="8.15 3.5" stroke-dashoffset="11.61"/>
<path d="M397.60 205.70 L398.60 205.68 L399.60 205.47 L400.60 205.12 L401.60 204.67 L402.60 204.13 L403.60 203.48 L404.60 202.72 L405.60 201.85 L406.60 200.88 L407.60 199.81 L408.60 198.68 L409.60 197.50 L410.60 196.28 L411.60 195.05 L412.60 193.82 L413.60 192.58 L414.60 191.33 L415.60 190.07 L416.60 188.80 L417.60 187.50 L418.60 186.19 L419.60 184.85 L420.60 183.49 L421.60 182.11 L422.60 180.70 L423.60 179.28 L424.60 177.85 L425.60 176.41 L426.60 174.97 L427.60 173.53 L428.60 172.10 L429.60 170.67 L430.60 169.26 L431.60 167.86 L432.60 166.48 L433.60 165.13 L434.60 163.80 L435.60 162.49 L436.60 161.20 L437.60 159.95 L438.60 158.71 L439.60 157.50 L440.60 156.32 L441.60 155.17 L442.60 154.04 L443.60 152.94 L444.60 151.87 L445.60 150.83 L446.60 149.82 L447.60 148.84 L448.60 147.88 L449.60 146.96 L450.60 146.06 L451.60 145.19 L452.60 144.35 L453.60 143.53 L454.60 142.74 L455.60 141.97 L456.60 141.22 L457.60 140.50 L458.60 139.79 L459.60 139.11 L460.60 138.44 L461.60 137.80 L462.60 137.17 L463.60 136.56 L464.60 135.96 L465.60 135.38 L466.60 134.81 L467.60 134.26 L468.60 133.72 L469.60 133.19 L470.60 132.68 L471.60 132.17 L472.60 131.67 L473.60 131.19 L474.60 130.71 L475.60 130.24 L476.60 129.78 L477.60 129.32 L478.60 128.88 L479.60 128.44 L480.60 128.01 L481.60 127.59 L482.60 127.18 L483.60 126.77 L484.60 126.37 L485.60 125.97 L486.60 125.59 L487.60 125.20 L488.60 124.83 L489.60 124.46 L490.60 124.09 L491.60 123.74 L492.60 123.38 L493.60 123.03 L494.60 122.69 L495.60 122.35 L496.60 122.01 L497.60 121.68 L498.60 121.35 L499.60 121.02 L500.60 120.70 L501.60 120.38 L502.60 120.07 L503.60 119.76 L504.60 119.44 L505.60 119.14 L506.60 118.83 L507.60 118.52 L508.60 118.22 L509.60 117.92 L510.60 117.62 L511.60 117.32 L512.60 117.02 L513.60 116.72 L514.60 116.43 L515.60 116.13 L516.60 115.84 L517.60 115.55 L518.60 115.26 L519.60 114.97 L520.60 114.68 L521.60 114.39 L522.60 114.11 L523.60 113.82 L524.60 113.54 L525.60 113.26 L526.60 112.98 L527.60 112.70 L528.60 112.42 L529.60 112.14 L530.60 111.86 L531.60 111.59 L532.60 111.31 L533.60 111.04 L534.60 110.77 L535.60 110.50 L536.60 110.23 L537.60 109.96 L538.60 109.69 L539.60 109.43 L540.60 109.16 L541.60 108.90 L542.60 108.64 L543.60 108.37 L544.60 108.11 L545.60 107.85 L546.60 107.59 L547.60 107.33 L548.60 107.08 L549.60 106.82 L550.60 106.57 L551.60 106.31 L552.60 106.06 L553.60 105.81 L554.60 105.56 L555.60 105.30 L556.60 105.06 L557.60 104.81 L558.60 104.56 L559.60 104.31 L560.60 104.07 L561.60 103.82 L562.60 103.58 L563.60 103.33 L564.60 103.09 L565.60 102.85 L566.60 102.61 L567.60 102.37 L568.60 102.13 L569.60 101.89 L570.60 101.65 L571.60 101.42 L572.60 101.18 L573.60 100.94 L574.60 100.71 L575.60 100.48 L576.60 100.24 L577.60 100.01 L578.60 99.78 L579.60 99.55 L580.60 99.32 L581.60 99.09 L582.60 98.86 L583.60 98.63 L584.60 98.40 L585.60 98.17 L586.60 97.95 L587.60 97.72 L588.60 97.50 L589.60 97.27 L590.60 97.05 L591.60 96.82 L592.60 96.60 L593.60 96.38 L594.60 96.16 L595.60 95.94 L596.60 95.71 L597.60 95.49 L598.60 95.27 L599.60 95.06 L600.60 94.84 L601.60 94.62 L602.60 94.40 L603.60 94.18 L604.60 93.97 L605.60 93.75 L606.60 93.53 L607.60 93.32 L608.60 93.10 L609.60 92.89 L610.60 92.67 L611.60 92.46 L612.60 92.24 L613.60 92.03 L614.60 91.82 L615.60 91.61 L616.60 91.39 L617.60 91.18 L618.60 90.97 L619.60 90.76 L620.60 90.55 L621.60 90.33 L622.60 90.12 L623.60 89.91 L624.60 89.70 L625.60 89.49 L626.60 89.28 L627.60 89.07 L628.60 88.86 L629.60 88.66 L630.60 88.45 L631.60 88.24 L632.60 88.03 L633.60 87.82 L634.60 87.61 L635.60 87.40 L636.60 87.20 L637.60 86.99 L638.60 86.78 L639.60 86.57 L640.60 86.36 L641.60 86.16 L642.60 85.95 L643.60 85.74 L644.60 85.53 L645.60 85.33 L646.60 85.12 L647.60 84.91 L648.60 84.70 L649.60 84.50 L650.60 84.29 L651.60 84.08 L652.60 83.88 L653.60 83.67 L654.60 83.46 L655.60 83.26 L656.60 83.05 L657.60 82.84 L658.60 82.64 L659.60 82.43 L660.60 82.23 L661.60 82.02 L662.60 81.82 L663.60 81.61 L664.60 81.41 L665.60 81.21 L666.60 81.00 L667.60 80.80 L668.60 80.60 L669.60 80.39 L670.60 80.19 L671.60 79.99 L672.60 79.79 L673.60 79.59 L674.60 79.39 L675.60 79.19 L676.60 78.99 L677.60 78.79 L678.60 78.59 L679.60 78.39 L680.60 78.19 L681.60 78.00 L682.60 77.80 L683.60 77.60 L684.60 77.41 L685.60 77.21 L686.60 77.02 L687.60 76.82 L688.60 76.63 L689.60 76.44 L690.60 76.25 L691.60 76.05 L692.60 75.86 L693.60 75.67 L694.60 75.48 L695.60 75.29 L696.60 75.11 L697.60 74.92 L698.60 74.73 L699.60 74.55 L700.60 74.36 L701.60 74.18 L702.60 73.99 L703.60 73.81 L704.60 73.63 L705.60 73.45 L706.60 73.26 L707.60 73.08 L708.60 72.91 L709.60 72.73 L710.60 72.55 L711.60 72.37 L712.60 72.20 L713.60 72.02 L714.60 71.85 L715.60 71.68 L716.60 71.51 L717.60 71.33 L718.60 71.16 L719.60 71.00 L720.60 70.83 L721.60 70.66 L722.60 70.49 L723.60 70.33 L724.60 70.17 L725.60 70.00 L726.60 69.84 L727.60 69.68 L728.60 69.52 L729.60 69.36 L730.60 69.21 L731.60 69.05 L732.60 68.89 L733.60 68.74 L734.60 68.59 L735.60 68.44 L736.60 68.29 L737.60 68.14 L738.60 67.99 L739.60 67.84 L740.60 67.70 L741.60 67.55 L742.60 67.41 L743.60 67.27 L744.60 67.13 L745.60 66.99 L746.60 66.85 L747.60 66.71 L748.60 66.58 L749.60 66.44 L750.60 66.31 L751.60 66.18 L752.60 66.05 L753.60 65.92 L754.60 65.80 L755.60 65.67 L756.60 65.55 L757.60 65.42 L758.60 65.30 L759.60 65.18 L760.60 65.06 L761.60 64.95 L762.60 64.83 L763.60 64.72 L764.60 64.61 L765.60 64.50 L766.60 64.39 L766.70 64.38" stroke="#303030" stroke-width="1.5"/>
</g>
<path d="M520.60 22.8 V205.7" stroke="#1a1a1a" stroke-width="0.8" fill="none"/>
<path d="M397.1 206.0 H767.2" stroke="#000" stroke-width="0.45" fill="none"/>
<path d=" M397.60 205.7 v6.2 M409.90 205.7 v3.2 M422.20 205.7 v3.2 M434.50 205.7 v3.2 M446.80 205.7 v3.2 M459.10 205.7 v3.2 M471.40 205.7 v6.2 M483.70 205.7 v3.2 M496.00 205.7 v3.2 M508.30 205.7 v3.2 M520.60 205.7 v3.2 M532.90 205.7 v3.2 M545.20 205.7 v6.2 M557.50 205.7 v3.2 M569.80 205.7 v3.2 M582.10 205.7 v3.2 M594.40 205.7 v3.2 M606.70 205.7 v3.2 M619.00 205.7 v6.2 M631.30 205.7 v3.2 M643.60 205.7 v3.2 M655.90 205.7 v3.2 M668.20 205.7 v3.2 M680.50 205.7 v3.2 M692.80 205.7 v6.2 M705.10 205.7 v3.2 M717.40 205.7 v3.2 M729.70 205.7 v3.2 M742.00 205.7 v3.2 M754.30 205.7 v3.2 M766.60 205.7 v6.2" stroke="#222" stroke-width="0.65" fill="none"/>
<path d="M397.6 26.6 V211.89999999999998" stroke="#111" stroke-width="1.2" fill="none"/>
<path d="M766.6 26.400000000000002 V211.89999999999998" stroke="#111" stroke-width="1.3" fill="none"/>
<path d=" M766.7 205.60 h5.2 M766.7 189.34 h2.8 M766.7 173.08 h2.8 M766.7 156.82 h2.8 M766.7 140.56 h2.8 M766.7 124.30 h5.2 M766.7 108.04 h2.8 M766.7 91.78 h2.8 M766.7 75.52 h2.8 M766.7 59.26 h2.8 M766.7 43.00 h5.2" stroke="#222" stroke-width="0.65" fill="none"/>
<path d="M766.7 26.95 h3.2" stroke="#808080" stroke-width="1.2" fill="none"/>
<g font-family="Liberation Serif, DejaVu Serif, serif" font-size="20" fill="#111" text-anchor="middle">
<text x="8.30" y="234">0</text>
<text x="82.10" y="234">3</text>
<text x="155.90" y="234">6</text>
<text x="229.70" y="234">9</text>
<text x="303.50" y="234">12</text>
<text text-anchor="start"><tspan x="172.98" y="236.70" font-size="20.2" font-style="italic">ω</tspan><tspan x="188.18" y="241.80" font-size="31.4" stroke="#fff" stroke-width="0.35">/</tspan><tspan x="198.07" y="236.80" font-size="21.5">Γ</tspan></text>
<text x="397.60" y="234">0</text>
<text x="471.40" y="234">3</text>
<text x="545.20" y="234">6</text>
<text x="619.00" y="234">9</text>
<text x="692.80" y="234">12</text>
<text x="766.60" y="234">15</text>
<text text-anchor="start"><tspan x="562.28" y="236.70" font-size="20.2" font-style="italic">ω</tspan><tspan x="577.48" y="241.80" font-size="31.4" stroke="#fff" stroke-width="0.35">/</tspan><tspan x="587.37" y="236.80" font-size="21.5">Γ</tspan></text>
<text transform="translate(54.90 6.40) scale(1.273 1.008) translate(-1.30 13.00)" text-anchor="start" font-style="italic">T</text>
<text transform="translate(518.00 6.40) scale(1.273 1.008) translate(-1.30 13.00)" text-anchor="start" font-style="italic">T</text>
<text x="776.2" y="212" text-anchor="start">0</text>
<text x="776.2" y="130" text-anchor="start">1</text>
<text x="776.2" y="48" text-anchor="start">2</text>
<text transform="rotate(-90)" text-anchor="start"><tspan x="-148.74" y="805.70" font-size="22.2" font-style="italic">S</tspan><tspan x="-136.97" y="806.10" font-size="23" stroke="#fff" stroke-width="0.25">(</tspan><tspan x="-128.97" y="806.20" font-size="21.5" font-style="italic">ω</tspan><tspan x="-114.48" y="806.10" font-size="23" stroke="#fff" stroke-width="0.25">)</tspan><tspan x="-105.50" y="810.40" font-size="32" stroke="#fff" stroke-width="0.35">/</tspan><tspan x="-95.83" y="805.40" font-size="22.2">Γ</tspan></text>
</g>
</svg>
</body></html>
